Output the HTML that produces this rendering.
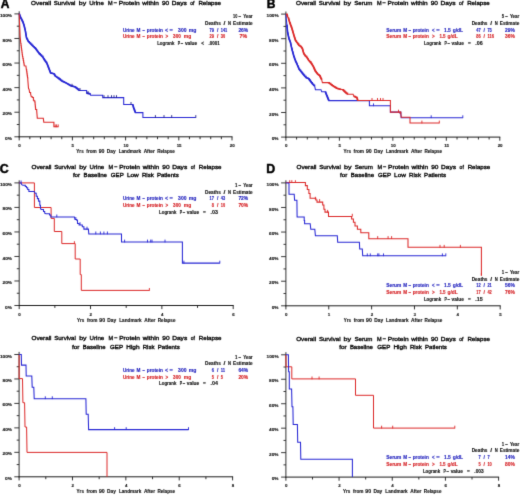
<!DOCTYPE html>
<html><head><meta charset="utf-8"><style>
html,body{margin:0;padding:0;background:#fff;}
body{width:520px;height:495px;overflow:hidden;}
svg{display:block;font-family:"Liberation Sans", sans-serif;}
</style></head><body>
<svg xmlns="http://www.w3.org/2000/svg" width="520" height="495" viewBox="0 0 520 495">
<defs><filter id="bl" x="0" y="0" width="520" height="495" filterUnits="userSpaceOnUse" color-interpolation-filters="sRGB"><feConvolveMatrix order="3" kernelMatrix="0.0113 0.0838 0.0113 0.0838 0.6193 0.0838 0.0113 0.0838 0.0113" edgeMode="duplicate" preserveAlpha="true"/></filter></defs>
<g filter="url(#bl)">
<rect width="520" height="495" fill="#fff"/>
<text x="0.7" y="8.4" font-size="12" font-weight="bold" fill="#000" stroke="#000" stroke-width="0.45">A</text>
<text x="31.10" y="4.83" font-size="6.2" fill="#0a0a0a" stroke="#0a0a0a" stroke-width="0.36" font-weight="normal" textLength="20.00" lengthAdjust="spacingAndGlyphs">Overall</text>
<text x="53.80" y="4.83" font-size="6.2" fill="#0a0a0a" stroke="#0a0a0a" stroke-width="0.36" font-weight="normal" textLength="21.60" lengthAdjust="spacingAndGlyphs">Survival</text>
<text x="78.80" y="4.83" font-size="6.2" fill="#0a0a0a" stroke="#0a0a0a" stroke-width="0.36" font-weight="normal" textLength="7.40" lengthAdjust="spacingAndGlyphs">by</text>
<text x="89.20" y="4.83" font-size="6.2" fill="#0a0a0a" stroke="#0a0a0a" stroke-width="0.36" font-weight="normal" textLength="14.60" lengthAdjust="spacingAndGlyphs">Urine</text>
<text x="108.10" y="4.83" font-size="6.2" fill="#0a0a0a" stroke="#0a0a0a" stroke-width="0.36" font-weight="normal" textLength="4.60" lengthAdjust="spacingAndGlyphs">M</text>
<text x="113.80" y="4.83" font-size="6.2" fill="#0a0a0a" stroke="#0a0a0a" stroke-width="0.36" font-weight="normal" textLength="3.50" lengthAdjust="spacingAndGlyphs">−</text>
<text x="118.80" y="4.83" font-size="6.2" fill="#0a0a0a" stroke="#0a0a0a" stroke-width="0.36" font-weight="normal" textLength="20.80" lengthAdjust="spacingAndGlyphs">Protein</text>
<text x="142.30" y="4.83" font-size="6.2" fill="#0a0a0a" stroke="#0a0a0a" stroke-width="0.36" font-weight="normal" textLength="16.50" lengthAdjust="spacingAndGlyphs">within</text>
<text x="161.90" y="4.83" font-size="6.2" fill="#0a0a0a" stroke="#0a0a0a" stroke-width="0.36" font-weight="normal" textLength="7.30" lengthAdjust="spacingAndGlyphs">90</text>
<text x="171.80" y="4.83" font-size="6.2" fill="#0a0a0a" stroke="#0a0a0a" stroke-width="0.36" font-weight="normal" textLength="15.00" lengthAdjust="spacingAndGlyphs">Days</text>
<text x="190.30" y="4.83" font-size="6.2" fill="#0a0a0a" stroke="#0a0a0a" stroke-width="0.36" font-weight="normal" textLength="4.20" lengthAdjust="spacingAndGlyphs">of</text>
<text x="198.40" y="4.83" font-size="6.2" fill="#0a0a0a" stroke="#0a0a0a" stroke-width="0.36" font-weight="normal" textLength="22.60" lengthAdjust="spacingAndGlyphs">Relapse</text>
<line x1="19.20" y1="11.30" x2="19.20" y2="137.30" stroke="#1a1a1a" stroke-width="0.9"/>
<line x1="14.40" y1="136.80" x2="19.20" y2="136.80" stroke="#222" stroke-width="0.9"/>
<line x1="16.80" y1="124.51" x2="19.20" y2="124.51" stroke="#222" stroke-width="0.9"/>
<line x1="14.40" y1="112.22" x2="19.20" y2="112.22" stroke="#222" stroke-width="0.9"/>
<line x1="16.80" y1="99.93" x2="19.20" y2="99.93" stroke="#222" stroke-width="0.9"/>
<line x1="14.40" y1="87.64" x2="19.20" y2="87.64" stroke="#222" stroke-width="0.9"/>
<line x1="16.80" y1="75.35" x2="19.20" y2="75.35" stroke="#222" stroke-width="0.9"/>
<line x1="14.40" y1="63.06" x2="19.20" y2="63.06" stroke="#222" stroke-width="0.9"/>
<line x1="16.80" y1="50.77" x2="19.20" y2="50.77" stroke="#222" stroke-width="0.9"/>
<line x1="14.40" y1="38.48" x2="19.20" y2="38.48" stroke="#222" stroke-width="0.9"/>
<line x1="16.80" y1="26.19" x2="19.20" y2="26.19" stroke="#222" stroke-width="0.9"/>
<line x1="14.40" y1="13.90" x2="19.20" y2="13.90" stroke="#222" stroke-width="0.9"/>
<text x="5.10" y="139.85" font-size="4.3" fill="#111" stroke="#111" stroke-width="0.12" font-weight="bold" textLength="6.90" lengthAdjust="spacingAndGlyphs">0%</text>
<text x="2.50" y="115.27" font-size="4.3" fill="#111" stroke="#111" stroke-width="0.12" font-weight="bold" textLength="9.50" lengthAdjust="spacingAndGlyphs">20%</text>
<text x="2.50" y="90.69" font-size="4.3" fill="#111" stroke="#111" stroke-width="0.12" font-weight="bold" textLength="9.50" lengthAdjust="spacingAndGlyphs">40%</text>
<text x="2.50" y="66.11" font-size="4.3" fill="#111" stroke="#111" stroke-width="0.12" font-weight="bold" textLength="9.50" lengthAdjust="spacingAndGlyphs">60%</text>
<text x="2.50" y="41.53" font-size="4.3" fill="#111" stroke="#111" stroke-width="0.12" font-weight="bold" textLength="9.50" lengthAdjust="spacingAndGlyphs">80%</text>
<text x="-0.10" y="16.95" font-size="4.3" fill="#111" stroke="#111" stroke-width="0.12" font-weight="bold" textLength="12.10" lengthAdjust="spacingAndGlyphs">100%</text>
<line x1="18.70" y1="136.80" x2="232.50" y2="136.80" stroke="#1a1a1a" stroke-width="1.0"/>
<line x1="19.20" y1="136.80" x2="19.20" y2="140.40" stroke="#1a1a1a" stroke-width="0.9"/>
<line x1="29.84" y1="136.80" x2="29.84" y2="139.20" stroke="#1a1a1a" stroke-width="0.9"/>
<line x1="40.48" y1="136.80" x2="40.48" y2="139.20" stroke="#1a1a1a" stroke-width="0.9"/>
<line x1="51.12" y1="136.80" x2="51.12" y2="139.20" stroke="#1a1a1a" stroke-width="0.9"/>
<line x1="61.76" y1="136.80" x2="61.76" y2="139.20" stroke="#1a1a1a" stroke-width="0.9"/>
<line x1="72.40" y1="136.80" x2="72.40" y2="140.40" stroke="#1a1a1a" stroke-width="0.9"/>
<line x1="83.04" y1="136.80" x2="83.04" y2="139.20" stroke="#1a1a1a" stroke-width="0.9"/>
<line x1="93.68" y1="136.80" x2="93.68" y2="139.20" stroke="#1a1a1a" stroke-width="0.9"/>
<line x1="104.32" y1="136.80" x2="104.32" y2="139.20" stroke="#1a1a1a" stroke-width="0.9"/>
<line x1="114.96" y1="136.80" x2="114.96" y2="139.20" stroke="#1a1a1a" stroke-width="0.9"/>
<line x1="125.60" y1="136.80" x2="125.60" y2="140.40" stroke="#1a1a1a" stroke-width="0.9"/>
<line x1="136.24" y1="136.80" x2="136.24" y2="139.20" stroke="#1a1a1a" stroke-width="0.9"/>
<line x1="146.88" y1="136.80" x2="146.88" y2="139.20" stroke="#1a1a1a" stroke-width="0.9"/>
<line x1="157.52" y1="136.80" x2="157.52" y2="139.20" stroke="#1a1a1a" stroke-width="0.9"/>
<line x1="168.16" y1="136.80" x2="168.16" y2="139.20" stroke="#1a1a1a" stroke-width="0.9"/>
<line x1="178.80" y1="136.80" x2="178.80" y2="140.40" stroke="#1a1a1a" stroke-width="0.9"/>
<line x1="189.44" y1="136.80" x2="189.44" y2="139.20" stroke="#1a1a1a" stroke-width="0.9"/>
<line x1="200.08" y1="136.80" x2="200.08" y2="139.20" stroke="#1a1a1a" stroke-width="0.9"/>
<line x1="210.72" y1="136.80" x2="210.72" y2="139.20" stroke="#1a1a1a" stroke-width="0.9"/>
<line x1="221.36" y1="136.80" x2="221.36" y2="139.20" stroke="#1a1a1a" stroke-width="0.9"/>
<line x1="232.00" y1="136.80" x2="232.00" y2="140.40" stroke="#1a1a1a" stroke-width="0.9"/>
<text x="18.27" y="146.85" font-size="4.3" fill="#111" stroke="#111" stroke-width="0.12" font-weight="bold" textLength="2.45" lengthAdjust="spacingAndGlyphs">0</text>
<text x="71.48" y="146.85" font-size="4.3" fill="#111" stroke="#111" stroke-width="0.12" font-weight="bold" textLength="2.45" lengthAdjust="spacingAndGlyphs">5</text>
<text x="123.45" y="146.85" font-size="4.3" fill="#111" stroke="#111" stroke-width="0.12" font-weight="bold" textLength="4.90" lengthAdjust="spacingAndGlyphs">10</text>
<text x="176.65" y="146.85" font-size="4.3" fill="#111" stroke="#111" stroke-width="0.12" font-weight="bold" textLength="4.90" lengthAdjust="spacingAndGlyphs">15</text>
<text x="229.85" y="146.85" font-size="4.3" fill="#111" stroke="#111" stroke-width="0.12" font-weight="bold" textLength="4.90" lengthAdjust="spacingAndGlyphs">20</text>
<text x="76.35" y="153.13" font-size="4.8" fill="#111" stroke="#111" stroke-width="0.12" font-weight="bold" textLength="7.30" lengthAdjust="spacingAndGlyphs">Yrs</text>
<text x="86.35" y="153.13" font-size="4.8" fill="#111" stroke="#111" stroke-width="0.12" font-weight="bold" textLength="10.40" lengthAdjust="spacingAndGlyphs">from</text>
<text x="98.65" y="153.13" font-size="4.8" fill="#111" stroke="#111" stroke-width="0.12" font-weight="bold" textLength="5.80" lengthAdjust="spacingAndGlyphs">90</text>
<text x="106.75" y="153.13" font-size="4.8" fill="#111" stroke="#111" stroke-width="0.12" font-weight="bold" textLength="8.90" lengthAdjust="spacingAndGlyphs">Day</text>
<text x="118.65" y="153.13" font-size="4.8" fill="#111" stroke="#111" stroke-width="0.12" font-weight="bold" textLength="22.40" lengthAdjust="spacingAndGlyphs">Landmark</text>
<text x="143.65" y="153.13" font-size="4.8" fill="#111" stroke="#111" stroke-width="0.12" font-weight="bold" textLength="11.20" lengthAdjust="spacingAndGlyphs">After</text>
<text x="157.15" y="153.13" font-size="4.8" fill="#111" stroke="#111" stroke-width="0.12" font-weight="bold" textLength="17.70" lengthAdjust="spacingAndGlyphs">Relapse</text>
<text x="233.10" y="18.33" font-size="4.8" fill="#111" stroke="#111" stroke-width="0.12" font-weight="bold" textLength="4.30" lengthAdjust="spacingAndGlyphs">10</text>
<text x="238.50" y="18.33" font-size="4.8" fill="#111" stroke="#111" stroke-width="0.12" font-weight="bold" textLength="2.70" lengthAdjust="spacingAndGlyphs">−</text>
<text x="243.20" y="18.33" font-size="4.8" fill="#111" stroke="#111" stroke-width="0.12" font-weight="bold" textLength="9.40" lengthAdjust="spacingAndGlyphs">Year</text>
<text x="205.00" y="25.05" font-size="4.8" fill="#111" stroke="#111" stroke-width="0.12" font-weight="bold" textLength="15.80" lengthAdjust="spacingAndGlyphs">Deaths</text>
<text x="223.50" y="25.05" font-size="4.8" fill="#111" stroke="#111" stroke-width="0.12" font-weight="bold" textLength="1.90" lengthAdjust="spacingAndGlyphs">/</text>
<text x="228.00" y="25.05" font-size="4.8" fill="#111" stroke="#111" stroke-width="0.12" font-weight="bold" textLength="3.00" lengthAdjust="spacingAndGlyphs">N</text>
<text x="233.10" y="25.05" font-size="4.8" fill="#111" stroke="#111" stroke-width="0.12" font-weight="bold" textLength="19.50" lengthAdjust="spacingAndGlyphs">Estimate</text>
<text x="122.90" y="31.77" font-size="4.8" fill="#1c1cbc" stroke="#1c1cbc" stroke-width="0.12" font-weight="bold" textLength="11.70" lengthAdjust="spacingAndGlyphs">Urine</text>
<text x="136.50" y="31.77" font-size="4.8" fill="#1c1cbc" stroke="#1c1cbc" stroke-width="0.12" font-weight="bold" textLength="3.90" lengthAdjust="spacingAndGlyphs">M</text>
<text x="142.50" y="31.77" font-size="4.8" fill="#1c1cbc" stroke="#1c1cbc" stroke-width="0.12" font-weight="bold" textLength="2.50" lengthAdjust="spacingAndGlyphs">−</text>
<text x="146.80" y="31.77" font-size="4.8" fill="#1c1cbc" stroke="#1c1cbc" stroke-width="0.12" font-weight="bold" textLength="16.10" lengthAdjust="spacingAndGlyphs">protein</text>
<text x="165.00" y="31.77" font-size="4.8" fill="#1c1cbc" stroke="#1c1cbc" stroke-width="0.12" font-weight="bold" textLength="3.10" lengthAdjust="spacingAndGlyphs">&lt;</text>
<text x="169.60" y="31.77" font-size="4.8" fill="#1c1cbc" stroke="#1c1cbc" stroke-width="0.12" font-weight="bold" textLength="3.30" lengthAdjust="spacingAndGlyphs">=</text>
<text x="178.10" y="31.77" font-size="4.8" fill="#1c1cbc" stroke="#1c1cbc" stroke-width="0.12" font-weight="bold" textLength="8.40" lengthAdjust="spacingAndGlyphs">300</text>
<text x="188.80" y="31.77" font-size="4.8" fill="#1c1cbc" stroke="#1c1cbc" stroke-width="0.12" font-weight="bold" textLength="7.70" lengthAdjust="spacingAndGlyphs">mg</text>
<text x="122.90" y="38.49" font-size="4.8" fill="#d41c20" stroke="#d41c20" stroke-width="0.12" font-weight="bold" textLength="11.70" lengthAdjust="spacingAndGlyphs">Urine</text>
<text x="136.50" y="38.49" font-size="4.8" fill="#d41c20" stroke="#d41c20" stroke-width="0.12" font-weight="bold" textLength="3.90" lengthAdjust="spacingAndGlyphs">M</text>
<text x="142.50" y="38.49" font-size="4.8" fill="#d41c20" stroke="#d41c20" stroke-width="0.12" font-weight="bold" textLength="2.50" lengthAdjust="spacingAndGlyphs">−</text>
<text x="146.80" y="38.49" font-size="4.8" fill="#d41c20" stroke="#d41c20" stroke-width="0.12" font-weight="bold" textLength="16.10" lengthAdjust="spacingAndGlyphs">protein</text>
<text x="165.40" y="38.49" font-size="4.8" fill="#d41c20" stroke="#d41c20" stroke-width="0.12" font-weight="bold" textLength="2.70" lengthAdjust="spacingAndGlyphs">&gt;</text>
<text x="173.10" y="38.49" font-size="4.8" fill="#d41c20" stroke="#d41c20" stroke-width="0.12" font-weight="bold" textLength="7.70" lengthAdjust="spacingAndGlyphs">300</text>
<text x="183.80" y="38.49" font-size="4.8" fill="#d41c20" stroke="#d41c20" stroke-width="0.12" font-weight="bold" textLength="7.40" lengthAdjust="spacingAndGlyphs">mg</text>
<text x="209.60" y="31.77" font-size="4.8" fill="#1c1cbc" stroke="#1c1cbc" stroke-width="0.12" font-weight="bold" textLength="4.40" lengthAdjust="spacingAndGlyphs">79</text>
<text x="216.90" y="31.77" font-size="4.8" fill="#1c1cbc" stroke="#1c1cbc" stroke-width="0.12" font-weight="bold" textLength="1.40" lengthAdjust="spacingAndGlyphs">/</text>
<text x="220.70" y="31.77" font-size="4.8" fill="#1c1cbc" stroke="#1c1cbc" stroke-width="0.12" font-weight="bold" textLength="6.60" lengthAdjust="spacingAndGlyphs">141</text>
<text x="238.40" y="31.77" font-size="4.8" fill="#1c1cbc" stroke="#1c1cbc" stroke-width="0.12" font-weight="bold" textLength="9.80" lengthAdjust="spacingAndGlyphs">26%</text>
<text x="209.60" y="38.49" font-size="4.8" fill="#d41c20" stroke="#d41c20" stroke-width="0.12" font-weight="bold" textLength="4.40" lengthAdjust="spacingAndGlyphs">29</text>
<text x="216.90" y="38.49" font-size="4.8" fill="#d41c20" stroke="#d41c20" stroke-width="0.12" font-weight="bold" textLength="1.40" lengthAdjust="spacingAndGlyphs">/</text>
<text x="220.70" y="38.49" font-size="4.8" fill="#d41c20" stroke="#d41c20" stroke-width="0.12" font-weight="bold" textLength="4.40" lengthAdjust="spacingAndGlyphs">30</text>
<text x="239.50" y="38.49" font-size="4.8" fill="#d41c20" stroke="#d41c20" stroke-width="0.12" font-weight="bold" textLength="7.60" lengthAdjust="spacingAndGlyphs">7%</text>
<text x="157.20" y="45.21" font-size="4.8" fill="#111" stroke="#111" stroke-width="0.12" font-weight="bold" textLength="17.30" lengthAdjust="spacingAndGlyphs">Logrank</text>
<text x="177.80" y="45.21" font-size="4.8" fill="#111" stroke="#111" stroke-width="0.12" font-weight="bold" textLength="2.30" lengthAdjust="spacingAndGlyphs">P</text>
<text x="180.80" y="45.21" font-size="4.8" fill="#111" stroke="#111" stroke-width="0.12" font-weight="bold" textLength="2.60" lengthAdjust="spacingAndGlyphs">−</text>
<text x="184.90" y="45.21" font-size="4.8" fill="#111" stroke="#111" stroke-width="0.12" font-weight="bold" textLength="12.40" lengthAdjust="spacingAndGlyphs">value</text>
<text x="201.20" y="45.21" font-size="4.8" fill="#111" stroke="#111" stroke-width="0.12" font-weight="bold" textLength="2.80" lengthAdjust="spacingAndGlyphs">&lt;</text>
<text x="208.60" y="45.21" font-size="4.8" fill="#111" stroke="#111" stroke-width="0.12" font-weight="bold" textLength="11.20" lengthAdjust="spacingAndGlyphs">.0001</text>
<polyline points="19.20,13.90 20.50,17.30 22.90,22.10 24.10,25.80 25.30,30.60 26.50,37.90 28.30,41.50 32.00,45.20 35.60,48.80 39.20,53.60 42.90,57.30 44.30,59.80 46.80,63.20 49.20,69.40 50.50,72.90 53.80,73.70 55.40,76.20 57.80,77.80 61.90,81.00 66.70,83.40 70.70,85.80 75.00,86.90 77.30,88.80 78.90,90.40" fill="none" stroke="#2626d4" stroke-width="1.6" stroke-linejoin="round"/>
<polyline points="86.60,93.10 90.20,93.90" fill="none" stroke="#2626d4" stroke-width="1.6" stroke-linejoin="round"/>
<polyline points="132.60,104.40 133.80,108.50 135.40,112.60" fill="none" stroke="#2626d4" stroke-width="1.6" stroke-linejoin="round"/>
<polyline points="19.20,13.90 19.63,13.90 19.63,15.03 20.07,15.03 20.07,16.17 20.50,16.17 20.50,17.30 21.10,17.30 21.10,18.50 21.70,18.50 21.70,19.70 22.30,19.70 22.30,20.90 22.90,20.90 22.90,22.10 23.30,22.10 23.30,23.33 23.70,23.33 23.70,24.57 24.10,24.57 24.10,25.80 24.40,25.80 24.40,27.00 24.70,27.00 24.70,28.20 25.00,28.20 25.00,29.40 25.30,29.40 25.30,30.60 25.50,30.60 25.50,31.82 25.70,31.82 25.70,33.03 25.90,33.03 25.90,34.25 26.10,34.25 26.10,35.47 26.30,35.47 26.30,36.68 26.50,36.68 26.50,37.90 27.10,37.90 27.10,39.10 27.70,39.10 27.70,40.30 28.30,40.30 28.30,41.50 29.53,41.50 29.53,42.73 30.77,42.73 30.77,43.97 32.00,43.97 32.00,45.20 33.20,45.20 33.20,46.40 34.40,46.40 34.40,47.60 35.60,47.60 35.60,48.80 36.50,48.80 36.50,50.00 37.40,50.00 37.40,51.20 38.30,51.20 38.30,52.40 39.20,52.40 39.20,53.60 40.43,53.60 40.43,54.83 41.67,54.83 41.67,56.07 42.90,56.07 42.90,57.30 43.60,57.30 43.60,58.55 44.30,58.55 44.30,59.80 45.13,59.80 45.13,60.93 45.97,60.93 45.97,62.07 46.80,62.07 46.80,63.20 47.28,63.20 47.28,64.44 47.76,64.44 47.76,65.68 48.24,65.68 48.24,66.92 48.72,66.92 48.72,68.16 49.20,68.16 49.20,69.40 49.63,69.40 49.63,70.57 50.07,70.57 50.07,71.73 50.50,71.73 50.50,72.90 51.60,72.90 51.60,73.17 52.70,73.17 52.70,73.43 53.80,73.43 53.80,73.70 54.60,73.70 54.60,74.95 55.40,74.95 55.40,76.20 56.60,76.20 56.60,77.00 57.80,77.00 57.80,77.80 59.17,77.80 59.17,78.87 60.53,78.87 60.53,79.93 61.90,79.93 61.90,81.00 63.10,81.00 63.10,81.60 64.30,81.60 64.30,82.20 65.50,82.20 65.50,82.80 66.70,82.80 66.70,83.40 68.03,83.40 68.03,84.20 69.37,84.20 69.37,85.00 70.70,85.00 70.70,85.80 72.13,85.80 72.13,86.17 73.57,86.17 73.57,86.53 75.00,86.53 75.00,86.90 76.15,86.90 76.15,87.85 77.30,87.85 77.30,88.80 78.90,88.80 78.90,90.40 86.60,90.60 86.60,93.10 87.80,93.10 87.80,93.37 89.00,93.37 89.00,93.63 90.20,93.63 90.20,93.90 90.60,95.20 102.70,95.20 102.70,97.60 123.70,97.60 123.70,104.40 132.60,104.40 133.00,104.40 133.00,105.77 133.40,105.77 133.40,107.13 133.80,107.13 133.80,108.50 134.33,108.50 134.33,109.87 134.87,109.87 134.87,111.23 135.40,111.23 135.40,112.60 142.90,112.60 142.90,117.50 195.80,117.50" fill="none" stroke="#2626d4" stroke-width="1.05" stroke-linejoin="miter"/>
<line x1="72.00" y1="83.80" x2="72.00" y2="86.60" stroke="#22228a" stroke-width="0.9"/>
<line x1="80.00" y1="88.10" x2="80.00" y2="90.90" stroke="#22228a" stroke-width="0.9"/>
<line x1="88.00" y1="91.00" x2="88.00" y2="93.80" stroke="#22228a" stroke-width="0.9"/>
<line x1="104.00" y1="95.20" x2="104.00" y2="98.00" stroke="#22228a" stroke-width="0.9"/>
<line x1="108.00" y1="95.20" x2="108.00" y2="98.00" stroke="#22228a" stroke-width="0.9"/>
<line x1="111.50" y1="95.20" x2="111.50" y2="98.00" stroke="#22228a" stroke-width="0.9"/>
<line x1="114.00" y1="95.20" x2="114.00" y2="98.00" stroke="#22228a" stroke-width="0.9"/>
<line x1="116.50" y1="95.20" x2="116.50" y2="98.00" stroke="#22228a" stroke-width="0.9"/>
<line x1="131.00" y1="102.00" x2="131.00" y2="104.80" stroke="#22228a" stroke-width="0.9"/>
<line x1="155.40" y1="115.10" x2="155.40" y2="117.90" stroke="#22228a" stroke-width="0.9"/>
<line x1="164.00" y1="115.10" x2="164.00" y2="117.90" stroke="#22228a" stroke-width="0.9"/>
<line x1="171.70" y1="115.10" x2="171.70" y2="117.90" stroke="#22228a" stroke-width="0.9"/>
<line x1="195.80" y1="115.10" x2="195.80" y2="117.90" stroke="#22228a" stroke-width="0.9"/>
<polyline points="19.20,13.80 19.60,24.10 20.10,36.20 20.80,43.50 21.02,43.50 21.02,45.33 21.25,45.33 21.25,47.15 21.48,47.15 21.48,48.97 21.70,48.97 21.70,50.80 21.97,50.80 21.97,52.80 22.23,52.80 22.23,54.80 22.50,54.80 22.50,56.80 22.90,56.80 22.90,58.65 23.30,58.65 23.30,60.50 23.60,60.50 23.60,62.23 23.90,62.23 23.90,63.97 24.20,63.97 24.20,65.70 25.90,65.90 26.40,69.90 26.68,69.90 26.68,71.88 26.96,71.88 26.96,73.86 27.24,73.86 27.24,75.84 27.52,75.84 27.52,77.82 27.80,77.82 27.80,79.80 28.50,88.30 29.20,89.70 29.60,92.50 30.60,92.50 30.60,93.90 31.30,96.80 32.40,96.80 32.40,97.50 33.40,97.50 33.40,100.30 34.10,100.30 34.10,101.00 34.90,101.00 34.90,102.40 35.08,102.40 35.08,104.18 35.25,104.18 35.25,105.95 35.42,105.95 35.42,107.72 35.60,107.72 35.60,109.50 36.70,109.50 36.70,110.90 37.00,114.50 37.30,118.30 43.30,118.30 43.80,122.20 53.90,122.20 53.90,126.80 58.20,126.80" fill="none" stroke="#dc2828" stroke-width="1.1" stroke-linejoin="miter"/>
<line x1="55.20" y1="124.40" x2="55.20" y2="127.20" stroke="#dc2828" stroke-width="0.9"/>
<line x1="56.60" y1="124.40" x2="56.60" y2="127.20" stroke="#dc2828" stroke-width="0.9"/>
<line x1="58.20" y1="124.40" x2="58.20" y2="127.20" stroke="#dc2828" stroke-width="0.9"/>
<text x="266.8" y="8.4" font-size="12" font-weight="bold" fill="#000" stroke="#000" stroke-width="0.45">B</text>
<text x="296.00" y="4.83" font-size="6.2" fill="#0a0a0a" stroke="#0a0a0a" stroke-width="0.36" font-weight="normal" textLength="20.00" lengthAdjust="spacingAndGlyphs">Overall</text>
<text x="318.70" y="4.83" font-size="6.2" fill="#0a0a0a" stroke="#0a0a0a" stroke-width="0.36" font-weight="normal" textLength="21.60" lengthAdjust="spacingAndGlyphs">Survival</text>
<text x="343.40" y="4.83" font-size="6.2" fill="#0a0a0a" stroke="#0a0a0a" stroke-width="0.36" font-weight="normal" textLength="7.60" lengthAdjust="spacingAndGlyphs">by</text>
<text x="354.20" y="4.83" font-size="6.2" fill="#0a0a0a" stroke="#0a0a0a" stroke-width="0.36" font-weight="normal" textLength="18.10" lengthAdjust="spacingAndGlyphs">Serum</text>
<text x="376.90" y="4.83" font-size="6.2" fill="#0a0a0a" stroke="#0a0a0a" stroke-width="0.36" font-weight="normal" textLength="4.60" lengthAdjust="spacingAndGlyphs">M</text>
<text x="382.60" y="4.83" font-size="6.2" fill="#0a0a0a" stroke="#0a0a0a" stroke-width="0.36" font-weight="normal" textLength="3.50" lengthAdjust="spacingAndGlyphs">−</text>
<text x="387.60" y="4.83" font-size="6.2" fill="#0a0a0a" stroke="#0a0a0a" stroke-width="0.36" font-weight="normal" textLength="20.80" lengthAdjust="spacingAndGlyphs">Protein</text>
<text x="411.10" y="4.83" font-size="6.2" fill="#0a0a0a" stroke="#0a0a0a" stroke-width="0.36" font-weight="normal" textLength="16.50" lengthAdjust="spacingAndGlyphs">within</text>
<text x="430.70" y="4.83" font-size="6.2" fill="#0a0a0a" stroke="#0a0a0a" stroke-width="0.36" font-weight="normal" textLength="7.30" lengthAdjust="spacingAndGlyphs">90</text>
<text x="440.60" y="4.83" font-size="6.2" fill="#0a0a0a" stroke="#0a0a0a" stroke-width="0.36" font-weight="normal" textLength="15.00" lengthAdjust="spacingAndGlyphs">Days</text>
<text x="459.10" y="4.83" font-size="6.2" fill="#0a0a0a" stroke="#0a0a0a" stroke-width="0.36" font-weight="normal" textLength="4.20" lengthAdjust="spacingAndGlyphs">of</text>
<text x="467.20" y="4.83" font-size="6.2" fill="#0a0a0a" stroke="#0a0a0a" stroke-width="0.36" font-weight="normal" textLength="22.50" lengthAdjust="spacingAndGlyphs">Relapse</text>
<line x1="285.90" y1="11.50" x2="285.90" y2="137.60" stroke="#1a1a1a" stroke-width="0.9"/>
<line x1="281.10" y1="137.10" x2="285.90" y2="137.10" stroke="#222" stroke-width="0.9"/>
<line x1="283.50" y1="124.80" x2="285.90" y2="124.80" stroke="#222" stroke-width="0.9"/>
<line x1="281.10" y1="112.50" x2="285.90" y2="112.50" stroke="#222" stroke-width="0.9"/>
<line x1="283.50" y1="100.20" x2="285.90" y2="100.20" stroke="#222" stroke-width="0.9"/>
<line x1="281.10" y1="87.90" x2="285.90" y2="87.90" stroke="#222" stroke-width="0.9"/>
<line x1="283.50" y1="75.60" x2="285.90" y2="75.60" stroke="#222" stroke-width="0.9"/>
<line x1="281.10" y1="63.30" x2="285.90" y2="63.30" stroke="#222" stroke-width="0.9"/>
<line x1="283.50" y1="51.00" x2="285.90" y2="51.00" stroke="#222" stroke-width="0.9"/>
<line x1="281.10" y1="38.70" x2="285.90" y2="38.70" stroke="#222" stroke-width="0.9"/>
<line x1="283.50" y1="26.40" x2="285.90" y2="26.40" stroke="#222" stroke-width="0.9"/>
<line x1="281.10" y1="14.10" x2="285.90" y2="14.10" stroke="#222" stroke-width="0.9"/>
<text x="271.70" y="140.15" font-size="4.3" fill="#111" stroke="#111" stroke-width="0.12" font-weight="bold" textLength="6.90" lengthAdjust="spacingAndGlyphs">0%</text>
<text x="269.10" y="115.55" font-size="4.3" fill="#111" stroke="#111" stroke-width="0.12" font-weight="bold" textLength="9.50" lengthAdjust="spacingAndGlyphs">20%</text>
<text x="269.10" y="90.95" font-size="4.3" fill="#111" stroke="#111" stroke-width="0.12" font-weight="bold" textLength="9.50" lengthAdjust="spacingAndGlyphs">40%</text>
<text x="269.10" y="66.35" font-size="4.3" fill="#111" stroke="#111" stroke-width="0.12" font-weight="bold" textLength="9.50" lengthAdjust="spacingAndGlyphs">60%</text>
<text x="269.10" y="41.75" font-size="4.3" fill="#111" stroke="#111" stroke-width="0.12" font-weight="bold" textLength="9.50" lengthAdjust="spacingAndGlyphs">80%</text>
<text x="266.50" y="17.15" font-size="4.3" fill="#111" stroke="#111" stroke-width="0.12" font-weight="bold" textLength="12.10" lengthAdjust="spacingAndGlyphs">100%</text>
<line x1="285.40" y1="137.10" x2="500.30" y2="137.10" stroke="#1a1a1a" stroke-width="1.0"/>
<line x1="285.90" y1="137.10" x2="285.90" y2="140.70" stroke="#1a1a1a" stroke-width="0.9"/>
<line x1="296.59" y1="137.10" x2="296.59" y2="139.50" stroke="#1a1a1a" stroke-width="0.9"/>
<line x1="307.29" y1="137.10" x2="307.29" y2="139.50" stroke="#1a1a1a" stroke-width="0.9"/>
<line x1="317.98" y1="137.10" x2="317.98" y2="139.50" stroke="#1a1a1a" stroke-width="0.9"/>
<line x1="328.68" y1="137.10" x2="328.68" y2="139.50" stroke="#1a1a1a" stroke-width="0.9"/>
<line x1="339.38" y1="137.10" x2="339.38" y2="140.70" stroke="#1a1a1a" stroke-width="0.9"/>
<line x1="350.07" y1="137.10" x2="350.07" y2="139.50" stroke="#1a1a1a" stroke-width="0.9"/>
<line x1="360.76" y1="137.10" x2="360.76" y2="139.50" stroke="#1a1a1a" stroke-width="0.9"/>
<line x1="371.46" y1="137.10" x2="371.46" y2="139.50" stroke="#1a1a1a" stroke-width="0.9"/>
<line x1="382.15" y1="137.10" x2="382.15" y2="139.50" stroke="#1a1a1a" stroke-width="0.9"/>
<line x1="392.85" y1="137.10" x2="392.85" y2="140.70" stroke="#1a1a1a" stroke-width="0.9"/>
<line x1="403.55" y1="137.10" x2="403.55" y2="139.50" stroke="#1a1a1a" stroke-width="0.9"/>
<line x1="414.24" y1="137.10" x2="414.24" y2="139.50" stroke="#1a1a1a" stroke-width="0.9"/>
<line x1="424.94" y1="137.10" x2="424.94" y2="139.50" stroke="#1a1a1a" stroke-width="0.9"/>
<line x1="435.63" y1="137.10" x2="435.63" y2="139.50" stroke="#1a1a1a" stroke-width="0.9"/>
<line x1="446.32" y1="137.10" x2="446.32" y2="140.70" stroke="#1a1a1a" stroke-width="0.9"/>
<line x1="457.02" y1="137.10" x2="457.02" y2="139.50" stroke="#1a1a1a" stroke-width="0.9"/>
<line x1="467.72" y1="137.10" x2="467.72" y2="139.50" stroke="#1a1a1a" stroke-width="0.9"/>
<line x1="478.41" y1="137.10" x2="478.41" y2="139.50" stroke="#1a1a1a" stroke-width="0.9"/>
<line x1="489.11" y1="137.10" x2="489.11" y2="139.50" stroke="#1a1a1a" stroke-width="0.9"/>
<line x1="499.80" y1="137.10" x2="499.80" y2="140.70" stroke="#1a1a1a" stroke-width="0.9"/>
<text x="284.97" y="147.15" font-size="4.3" fill="#111" stroke="#111" stroke-width="0.12" font-weight="bold" textLength="2.45" lengthAdjust="spacingAndGlyphs">0</text>
<text x="338.45" y="147.15" font-size="4.3" fill="#111" stroke="#111" stroke-width="0.12" font-weight="bold" textLength="2.45" lengthAdjust="spacingAndGlyphs">5</text>
<text x="390.70" y="147.15" font-size="4.3" fill="#111" stroke="#111" stroke-width="0.12" font-weight="bold" textLength="4.90" lengthAdjust="spacingAndGlyphs">10</text>
<text x="444.18" y="147.15" font-size="4.3" fill="#111" stroke="#111" stroke-width="0.12" font-weight="bold" textLength="4.90" lengthAdjust="spacingAndGlyphs">15</text>
<text x="497.65" y="147.15" font-size="4.3" fill="#111" stroke="#111" stroke-width="0.12" font-weight="bold" textLength="4.90" lengthAdjust="spacingAndGlyphs">20</text>
<text x="343.60" y="153.43" font-size="4.8" fill="#111" stroke="#111" stroke-width="0.12" font-weight="bold" textLength="7.30" lengthAdjust="spacingAndGlyphs">Yrs</text>
<text x="353.60" y="153.43" font-size="4.8" fill="#111" stroke="#111" stroke-width="0.12" font-weight="bold" textLength="10.40" lengthAdjust="spacingAndGlyphs">from</text>
<text x="365.90" y="153.43" font-size="4.8" fill="#111" stroke="#111" stroke-width="0.12" font-weight="bold" textLength="5.80" lengthAdjust="spacingAndGlyphs">90</text>
<text x="374.00" y="153.43" font-size="4.8" fill="#111" stroke="#111" stroke-width="0.12" font-weight="bold" textLength="8.90" lengthAdjust="spacingAndGlyphs">Day</text>
<text x="385.90" y="153.43" font-size="4.8" fill="#111" stroke="#111" stroke-width="0.12" font-weight="bold" textLength="22.40" lengthAdjust="spacingAndGlyphs">Landmark</text>
<text x="410.90" y="153.43" font-size="4.8" fill="#111" stroke="#111" stroke-width="0.12" font-weight="bold" textLength="11.20" lengthAdjust="spacingAndGlyphs">After</text>
<text x="424.40" y="153.43" font-size="4.8" fill="#111" stroke="#111" stroke-width="0.12" font-weight="bold" textLength="17.70" lengthAdjust="spacingAndGlyphs">Relapse</text>
<text x="501.70" y="18.13" font-size="4.8" fill="#111" stroke="#111" stroke-width="0.12" font-weight="bold" textLength="2.40" lengthAdjust="spacingAndGlyphs">5</text>
<text x="505.20" y="18.13" font-size="4.8" fill="#111" stroke="#111" stroke-width="0.12" font-weight="bold" textLength="2.70" lengthAdjust="spacingAndGlyphs">−</text>
<text x="509.90" y="18.13" font-size="4.8" fill="#111" stroke="#111" stroke-width="0.12" font-weight="bold" textLength="9.40" lengthAdjust="spacingAndGlyphs">Year</text>
<text x="471.70" y="24.85" font-size="4.8" fill="#111" stroke="#111" stroke-width="0.12" font-weight="bold" textLength="15.80" lengthAdjust="spacingAndGlyphs">Deaths</text>
<text x="490.20" y="24.85" font-size="4.8" fill="#111" stroke="#111" stroke-width="0.12" font-weight="bold" textLength="1.90" lengthAdjust="spacingAndGlyphs">/</text>
<text x="494.70" y="24.85" font-size="4.8" fill="#111" stroke="#111" stroke-width="0.12" font-weight="bold" textLength="3.00" lengthAdjust="spacingAndGlyphs">N</text>
<text x="499.80" y="24.85" font-size="4.8" fill="#111" stroke="#111" stroke-width="0.12" font-weight="bold" textLength="19.50" lengthAdjust="spacingAndGlyphs">Estimate</text>
<text x="386.30" y="31.57" font-size="4.8" fill="#1c1cbc" stroke="#1c1cbc" stroke-width="0.12" font-weight="bold" textLength="15.00" lengthAdjust="spacingAndGlyphs">Serum</text>
<text x="403.20" y="31.57" font-size="4.8" fill="#1c1cbc" stroke="#1c1cbc" stroke-width="0.12" font-weight="bold" textLength="3.90" lengthAdjust="spacingAndGlyphs">M</text>
<text x="408.60" y="31.57" font-size="4.8" fill="#1c1cbc" stroke="#1c1cbc" stroke-width="0.12" font-weight="bold" textLength="2.70" lengthAdjust="spacingAndGlyphs">−</text>
<text x="412.70" y="31.57" font-size="4.8" fill="#1c1cbc" stroke="#1c1cbc" stroke-width="0.12" font-weight="bold" textLength="16.10" lengthAdjust="spacingAndGlyphs">protein</text>
<text x="431.90" y="31.57" font-size="4.8" fill="#1c1cbc" stroke="#1c1cbc" stroke-width="0.12" font-weight="bold" textLength="2.60" lengthAdjust="spacingAndGlyphs">&lt;</text>
<text x="436.20" y="31.57" font-size="4.8" fill="#1c1cbc" stroke="#1c1cbc" stroke-width="0.12" font-weight="bold" textLength="3.40" lengthAdjust="spacingAndGlyphs">=</text>
<text x="444.00" y="31.57" font-size="4.8" fill="#1c1cbc" stroke="#1c1cbc" stroke-width="0.12" font-weight="bold" textLength="6.80" lengthAdjust="spacingAndGlyphs">1.5</text>
<text x="452.70" y="31.57" font-size="4.8" fill="#1c1cbc" stroke="#1c1cbc" stroke-width="0.12" font-weight="bold" textLength="10.40" lengthAdjust="spacingAndGlyphs">g/dL</text>
<text x="386.30" y="38.29" font-size="4.8" fill="#d41c20" stroke="#d41c20" stroke-width="0.12" font-weight="bold" textLength="15.00" lengthAdjust="spacingAndGlyphs">Serum</text>
<text x="403.20" y="38.29" font-size="4.8" fill="#d41c20" stroke="#d41c20" stroke-width="0.12" font-weight="bold" textLength="3.90" lengthAdjust="spacingAndGlyphs">M</text>
<text x="408.60" y="38.29" font-size="4.8" fill="#d41c20" stroke="#d41c20" stroke-width="0.12" font-weight="bold" textLength="2.70" lengthAdjust="spacingAndGlyphs">−</text>
<text x="412.70" y="38.29" font-size="4.8" fill="#d41c20" stroke="#d41c20" stroke-width="0.12" font-weight="bold" textLength="16.10" lengthAdjust="spacingAndGlyphs">protein</text>
<text x="431.90" y="38.29" font-size="4.8" fill="#d41c20" stroke="#d41c20" stroke-width="0.12" font-weight="bold" textLength="2.70" lengthAdjust="spacingAndGlyphs">&gt;</text>
<text x="439.40" y="38.29" font-size="4.8" fill="#d41c20" stroke="#d41c20" stroke-width="0.12" font-weight="bold" textLength="6.20" lengthAdjust="spacingAndGlyphs">1.5</text>
<text x="447.50" y="38.29" font-size="4.8" fill="#d41c20" stroke="#d41c20" stroke-width="0.12" font-weight="bold" textLength="10.20" lengthAdjust="spacingAndGlyphs">g/dL</text>
<text x="476.30" y="31.57" font-size="4.8" fill="#1c1cbc" stroke="#1c1cbc" stroke-width="0.12" font-weight="bold" textLength="4.40" lengthAdjust="spacingAndGlyphs">47</text>
<text x="483.60" y="31.57" font-size="4.8" fill="#1c1cbc" stroke="#1c1cbc" stroke-width="0.12" font-weight="bold" textLength="1.40" lengthAdjust="spacingAndGlyphs">/</text>
<text x="487.40" y="31.57" font-size="4.8" fill="#1c1cbc" stroke="#1c1cbc" stroke-width="0.12" font-weight="bold" textLength="4.40" lengthAdjust="spacingAndGlyphs">73</text>
<text x="505.10" y="31.57" font-size="4.8" fill="#1c1cbc" stroke="#1c1cbc" stroke-width="0.12" font-weight="bold" textLength="9.80" lengthAdjust="spacingAndGlyphs">29%</text>
<text x="476.30" y="38.29" font-size="4.8" fill="#d41c20" stroke="#d41c20" stroke-width="0.12" font-weight="bold" textLength="4.40" lengthAdjust="spacingAndGlyphs">86</text>
<text x="483.60" y="38.29" font-size="4.8" fill="#d41c20" stroke="#d41c20" stroke-width="0.12" font-weight="bold" textLength="1.40" lengthAdjust="spacingAndGlyphs">/</text>
<text x="487.40" y="38.29" font-size="4.8" fill="#d41c20" stroke="#d41c20" stroke-width="0.12" font-weight="bold" textLength="6.60" lengthAdjust="spacingAndGlyphs">116</text>
<text x="505.10" y="38.29" font-size="4.8" fill="#d41c20" stroke="#d41c20" stroke-width="0.12" font-weight="bold" textLength="9.80" lengthAdjust="spacingAndGlyphs">36%</text>
<text x="423.90" y="45.01" font-size="4.8" fill="#111" stroke="#111" stroke-width="0.12" font-weight="bold" textLength="17.30" lengthAdjust="spacingAndGlyphs">Logrank</text>
<text x="444.50" y="45.01" font-size="4.8" fill="#111" stroke="#111" stroke-width="0.12" font-weight="bold" textLength="2.30" lengthAdjust="spacingAndGlyphs">P</text>
<text x="447.50" y="45.01" font-size="4.8" fill="#111" stroke="#111" stroke-width="0.12" font-weight="bold" textLength="2.60" lengthAdjust="spacingAndGlyphs">−</text>
<text x="451.60" y="45.01" font-size="4.8" fill="#111" stroke="#111" stroke-width="0.12" font-weight="bold" textLength="12.40" lengthAdjust="spacingAndGlyphs">value</text>
<text x="467.90" y="45.01" font-size="4.8" fill="#111" stroke="#111" stroke-width="0.12" font-weight="bold" textLength="2.80" lengthAdjust="spacingAndGlyphs">=</text>
<text x="475.30" y="45.01" font-size="4.8" fill="#111" stroke="#111" stroke-width="0.12" font-weight="bold" textLength="7.40" lengthAdjust="spacingAndGlyphs">.06</text>
<polyline points="286.90,24.80 287.60,32.50 289.00,38.90 290.40,42.40 291.80,48.80 293.90,56.60 295.40,60.80 297.00,64.20 299.10,69.20 301.90,72.70 304.80,76.30 306.20,77.70 308.30,78.40 310.40,81.20 312.50,84.00 314.70,86.20" fill="none" stroke="#2626d4" stroke-width="1.6" stroke-linejoin="round"/>
<polyline points="325.30,91.80 326.70,95.40 328.80,100.60" fill="none" stroke="#2626d4" stroke-width="1.6" stroke-linejoin="round"/>
<polyline points="399.60,112.10 400.80,113.80" fill="none" stroke="#2626d4" stroke-width="1.6" stroke-linejoin="round"/>
<polyline points="285.90,14.10 286.20,18.40 286.90,24.80 287.02,24.80 287.02,26.08 287.13,26.08 287.13,27.37 287.25,27.37 287.25,28.65 287.37,28.65 287.37,29.93 287.48,29.93 287.48,31.22 287.60,31.22 287.60,32.50 287.88,32.50 287.88,33.78 288.16,33.78 288.16,35.06 288.44,35.06 288.44,36.34 288.72,36.34 288.72,37.62 289.00,37.62 289.00,38.90 289.47,38.90 289.47,40.07 289.93,40.07 289.93,41.23 290.40,41.23 290.40,42.40 290.68,42.40 290.68,43.68 290.96,43.68 290.96,44.96 291.24,44.96 291.24,46.24 291.52,46.24 291.52,47.52 291.80,47.52 291.80,48.80 292.15,48.80 292.15,50.10 292.50,50.10 292.50,51.40 292.85,51.40 292.85,52.70 293.20,52.70 293.20,54.00 293.55,54.00 293.55,55.30 293.90,55.30 293.90,56.60 294.40,56.60 294.40,58.00 294.90,58.00 294.90,59.40 295.40,59.40 295.40,60.80 295.93,60.80 295.93,61.93 296.47,61.93 296.47,63.07 297.00,63.07 297.00,64.20 297.52,64.20 297.52,65.45 298.05,65.45 298.05,66.70 298.58,66.70 298.58,67.95 299.10,67.95 299.10,69.20 300.03,69.20 300.03,70.37 300.97,70.37 300.97,71.53 301.90,71.53 301.90,72.70 302.87,72.70 302.87,73.90 303.83,73.90 303.83,75.10 304.80,75.10 304.80,76.30 306.20,76.30 306.20,77.70 307.25,77.70 307.25,78.05 308.30,78.05 308.30,78.40 309.35,78.40 309.35,79.80 310.40,79.80 310.40,81.20 311.45,81.20 311.45,82.60 312.50,82.60 312.50,84.00 313.60,84.00 313.60,85.10 314.70,85.10 314.70,86.20 315.40,89.70 321.00,89.70 321.70,91.80 325.30,91.80 325.77,91.80 325.77,93.00 326.23,93.00 326.23,94.20 326.70,94.20 326.70,95.40 327.23,95.40 327.23,96.70 327.75,96.70 327.75,98.00 328.27,98.00 328.27,99.30 328.80,99.30 328.80,100.60 369.40,100.60 369.40,105.80 390.40,105.80 390.40,112.10 399.60,112.10 400.80,112.10 400.80,113.80 401.20,117.70 462.80,117.70" fill="none" stroke="#2626d4" stroke-width="1.05" stroke-linejoin="miter"/>
<polyline points="286.90,14.10 287.60,17.00" fill="none" stroke="#dc2828" stroke-width="1.6" stroke-linejoin="round"/>
<polyline points="288.30,17.70 289.70,22.60 291.80,28.30 293.90,35.40 295.40,40.30 296.80,42.40 298.90,45.30 301.00,46.70 302.40,48.80 303.80,53.70 305.30,55.90 306.70,57.30 308.50,60.20 311.00,63.00 313.20,66.40 315.40,71.30 317.50,74.10 319.60,75.60 321.70,79.80" fill="none" stroke="#dc2828" stroke-width="1.6" stroke-linejoin="round"/>
<polyline points="328.10,82.60 329.50,83.30 332.30,85.50 336.60,88.30 340.80,89.50" fill="none" stroke="#dc2828" stroke-width="1.6" stroke-linejoin="round"/>
<polyline points="342.30,89.50 343.80,90.80 346.20,93.10 347.70,94.30" fill="none" stroke="#dc2828" stroke-width="1.6" stroke-linejoin="round"/>
<polyline points="353.80,96.20 356.90,97.70 357.70,100.40" fill="none" stroke="#dc2828" stroke-width="1.6" stroke-linejoin="round"/>
<polyline points="399.60,112.10 400.80,113.10" fill="none" stroke="#dc2828" stroke-width="1.6" stroke-linejoin="round"/>
<polyline points="285.90,14.10 286.90,14.10 287.25,14.10 287.25,15.55 287.60,15.55 287.60,17.00 288.30,17.70 288.65,17.70 288.65,18.93 289.00,18.93 289.00,20.15 289.35,20.15 289.35,21.38 289.70,21.38 289.70,22.60 290.23,22.60 290.23,24.03 290.75,24.03 290.75,25.45 291.27,25.45 291.27,26.88 291.80,26.88 291.80,28.30 292.22,28.30 292.22,29.72 292.64,29.72 292.64,31.14 293.06,31.14 293.06,32.56 293.48,32.56 293.48,33.98 293.90,33.98 293.90,35.40 294.27,35.40 294.27,36.62 294.65,36.62 294.65,37.85 295.02,37.85 295.02,39.07 295.40,39.07 295.40,40.30 296.10,40.30 296.10,41.35 296.80,41.35 296.80,42.40 297.85,42.40 297.85,43.85 298.90,43.85 298.90,45.30 299.95,45.30 299.95,46.00 301.00,46.00 301.00,46.70 301.70,46.70 301.70,47.75 302.40,47.75 302.40,48.80 302.75,48.80 302.75,50.02 303.10,50.02 303.10,51.25 303.45,51.25 303.45,52.48 303.80,52.48 303.80,53.70 304.55,53.70 304.55,54.80 305.30,54.80 305.30,55.90 306.70,55.90 306.70,57.30 307.60,57.30 307.60,58.75 308.50,58.75 308.50,60.20 309.75,60.20 309.75,61.60 311.00,61.60 311.00,63.00 311.73,63.00 311.73,64.13 312.47,64.13 312.47,65.27 313.20,65.27 313.20,66.40 313.75,66.40 313.75,67.62 314.30,67.62 314.30,68.85 314.85,68.85 314.85,70.08 315.40,70.08 315.40,71.30 316.45,71.30 316.45,72.70 317.50,72.70 317.50,74.10 318.55,74.10 318.55,74.85 319.60,74.85 319.60,75.60 320.30,75.60 320.30,77.00 321.00,77.00 321.00,78.40 321.70,78.40 321.70,79.80 322.40,82.60 328.10,82.60 329.50,82.60 329.50,83.30 330.90,83.30 330.90,84.40 332.30,84.40 332.30,85.50 333.73,85.50 333.73,86.43 335.17,86.43 335.17,87.37 336.60,87.37 336.60,88.30 338.00,88.30 338.00,88.70 339.40,88.70 339.40,89.10 340.80,89.10 340.80,89.50 342.30,89.50 343.80,89.50 343.80,90.80 345.00,90.80 345.00,91.95 346.20,91.95 346.20,93.10 347.70,93.10 347.70,94.30 353.10,94.30 353.80,96.20 355.35,96.20 355.35,96.95 356.90,96.95 356.90,97.70 357.30,97.70 357.30,99.05 357.70,99.05 357.70,100.40 390.40,100.40 390.40,112.10 399.60,112.10 400.80,112.10 400.80,113.10 401.20,117.20 410.00,117.20 410.00,123.00 439.30,123.00" fill="none" stroke="#dc2828" stroke-width="1.05" stroke-linejoin="miter"/>
<line x1="372.00" y1="98.00" x2="372.00" y2="100.80" stroke="#dc2828" stroke-width="0.9"/>
<line x1="377.50" y1="98.00" x2="377.50" y2="100.80" stroke="#dc2828" stroke-width="0.9"/>
<line x1="380.50" y1="98.00" x2="380.50" y2="100.80" stroke="#dc2828" stroke-width="0.9"/>
<line x1="383.00" y1="98.00" x2="383.00" y2="100.80" stroke="#dc2828" stroke-width="0.9"/>
<line x1="398.50" y1="109.70" x2="398.50" y2="112.50" stroke="#dc2828" stroke-width="0.9"/>
<line x1="421.90" y1="120.60" x2="421.90" y2="123.40" stroke="#dc2828" stroke-width="0.9"/>
<line x1="439.30" y1="120.60" x2="439.30" y2="123.40" stroke="#dc2828" stroke-width="0.9"/>
<line x1="373.50" y1="103.40" x2="373.50" y2="106.20" stroke="#2626d4" stroke-width="0.9"/>
<line x1="431.20" y1="115.30" x2="431.20" y2="118.10" stroke="#2626d4" stroke-width="0.9"/>
<line x1="462.80" y1="115.30" x2="462.80" y2="118.10" stroke="#2626d4" stroke-width="0.9"/>
<text x="-0.3" y="172.7" font-size="12.4" font-weight="bold" fill="#000" stroke="#000" stroke-width="0.45">C</text>
<text x="31.50" y="169.13" font-size="6.2" fill="#0a0a0a" stroke="#0a0a0a" stroke-width="0.36" font-weight="normal" textLength="20.00" lengthAdjust="spacingAndGlyphs">Overall</text>
<text x="54.20" y="169.13" font-size="6.2" fill="#0a0a0a" stroke="#0a0a0a" stroke-width="0.36" font-weight="normal" textLength="21.60" lengthAdjust="spacingAndGlyphs">Survival</text>
<text x="79.20" y="169.13" font-size="6.2" fill="#0a0a0a" stroke="#0a0a0a" stroke-width="0.36" font-weight="normal" textLength="7.40" lengthAdjust="spacingAndGlyphs">by</text>
<text x="89.60" y="169.13" font-size="6.2" fill="#0a0a0a" stroke="#0a0a0a" stroke-width="0.36" font-weight="normal" textLength="14.60" lengthAdjust="spacingAndGlyphs">Urine</text>
<text x="108.50" y="169.13" font-size="6.2" fill="#0a0a0a" stroke="#0a0a0a" stroke-width="0.36" font-weight="normal" textLength="4.60" lengthAdjust="spacingAndGlyphs">M</text>
<text x="114.20" y="169.13" font-size="6.2" fill="#0a0a0a" stroke="#0a0a0a" stroke-width="0.36" font-weight="normal" textLength="3.50" lengthAdjust="spacingAndGlyphs">−</text>
<text x="119.20" y="169.13" font-size="6.2" fill="#0a0a0a" stroke="#0a0a0a" stroke-width="0.36" font-weight="normal" textLength="20.80" lengthAdjust="spacingAndGlyphs">Protein</text>
<text x="142.70" y="169.13" font-size="6.2" fill="#0a0a0a" stroke="#0a0a0a" stroke-width="0.36" font-weight="normal" textLength="16.50" lengthAdjust="spacingAndGlyphs">within</text>
<text x="162.30" y="169.13" font-size="6.2" fill="#0a0a0a" stroke="#0a0a0a" stroke-width="0.36" font-weight="normal" textLength="7.30" lengthAdjust="spacingAndGlyphs">90</text>
<text x="172.20" y="169.13" font-size="6.2" fill="#0a0a0a" stroke="#0a0a0a" stroke-width="0.36" font-weight="normal" textLength="15.00" lengthAdjust="spacingAndGlyphs">Days</text>
<text x="190.70" y="169.13" font-size="6.2" fill="#0a0a0a" stroke="#0a0a0a" stroke-width="0.36" font-weight="normal" textLength="4.20" lengthAdjust="spacingAndGlyphs">of</text>
<text x="198.80" y="169.13" font-size="6.2" fill="#0a0a0a" stroke="#0a0a0a" stroke-width="0.36" font-weight="normal" textLength="22.60" lengthAdjust="spacingAndGlyphs">Relapse</text>
<text x="72.90" y="177.03" font-size="6.2" fill="#0a0a0a" stroke="#0a0a0a" stroke-width="0.36" font-weight="normal" textLength="7.20" lengthAdjust="spacingAndGlyphs">for</text>
<text x="83.60" y="177.03" font-size="6.2" fill="#0a0a0a" stroke="#0a0a0a" stroke-width="0.36" font-weight="normal" textLength="23.30" lengthAdjust="spacingAndGlyphs">Baseline</text>
<text x="110.80" y="177.03" font-size="6.2" fill="#0a0a0a" stroke="#0a0a0a" stroke-width="0.36" font-weight="normal" textLength="13.00" lengthAdjust="spacingAndGlyphs">GEP</text>
<text x="126.90" y="177.03" font-size="6.2" fill="#0a0a0a" stroke="#0a0a0a" stroke-width="0.36" font-weight="normal" textLength="11.90" lengthAdjust="spacingAndGlyphs">Low</text>
<text x="141.90" y="177.03" font-size="6.2" fill="#0a0a0a" stroke="#0a0a0a" stroke-width="0.36" font-weight="normal" textLength="11.90" lengthAdjust="spacingAndGlyphs">Risk</text>
<text x="156.90" y="177.03" font-size="6.2" fill="#0a0a0a" stroke="#0a0a0a" stroke-width="0.36" font-weight="normal" textLength="21.90" lengthAdjust="spacingAndGlyphs">Patients</text>
<line x1="19.20" y1="180.30" x2="19.20" y2="306.00" stroke="#1a1a1a" stroke-width="0.9"/>
<line x1="14.40" y1="305.50" x2="19.20" y2="305.50" stroke="#222" stroke-width="0.9"/>
<line x1="16.80" y1="293.24" x2="19.20" y2="293.24" stroke="#222" stroke-width="0.9"/>
<line x1="14.40" y1="280.98" x2="19.20" y2="280.98" stroke="#222" stroke-width="0.9"/>
<line x1="16.80" y1="268.72" x2="19.20" y2="268.72" stroke="#222" stroke-width="0.9"/>
<line x1="14.40" y1="256.46" x2="19.20" y2="256.46" stroke="#222" stroke-width="0.9"/>
<line x1="16.80" y1="244.20" x2="19.20" y2="244.20" stroke="#222" stroke-width="0.9"/>
<line x1="14.40" y1="231.94" x2="19.20" y2="231.94" stroke="#222" stroke-width="0.9"/>
<line x1="16.80" y1="219.68" x2="19.20" y2="219.68" stroke="#222" stroke-width="0.9"/>
<line x1="14.40" y1="207.42" x2="19.20" y2="207.42" stroke="#222" stroke-width="0.9"/>
<line x1="16.80" y1="195.16" x2="19.20" y2="195.16" stroke="#222" stroke-width="0.9"/>
<line x1="14.40" y1="182.90" x2="19.20" y2="182.90" stroke="#222" stroke-width="0.9"/>
<text x="5.10" y="308.55" font-size="4.3" fill="#111" stroke="#111" stroke-width="0.12" font-weight="bold" textLength="6.90" lengthAdjust="spacingAndGlyphs">0%</text>
<text x="2.50" y="284.03" font-size="4.3" fill="#111" stroke="#111" stroke-width="0.12" font-weight="bold" textLength="9.50" lengthAdjust="spacingAndGlyphs">20%</text>
<text x="2.50" y="259.51" font-size="4.3" fill="#111" stroke="#111" stroke-width="0.12" font-weight="bold" textLength="9.50" lengthAdjust="spacingAndGlyphs">40%</text>
<text x="2.50" y="234.99" font-size="4.3" fill="#111" stroke="#111" stroke-width="0.12" font-weight="bold" textLength="9.50" lengthAdjust="spacingAndGlyphs">60%</text>
<text x="2.50" y="210.47" font-size="4.3" fill="#111" stroke="#111" stroke-width="0.12" font-weight="bold" textLength="9.50" lengthAdjust="spacingAndGlyphs">80%</text>
<text x="-0.10" y="185.95" font-size="4.3" fill="#111" stroke="#111" stroke-width="0.12" font-weight="bold" textLength="12.10" lengthAdjust="spacingAndGlyphs">100%</text>
<line x1="18.70" y1="305.50" x2="233.70" y2="305.50" stroke="#1a1a1a" stroke-width="1.0"/>
<line x1="19.20" y1="305.50" x2="19.20" y2="309.10" stroke="#1a1a1a" stroke-width="0.9"/>
<line x1="54.87" y1="305.50" x2="54.87" y2="307.90" stroke="#1a1a1a" stroke-width="0.9"/>
<line x1="90.53" y1="305.50" x2="90.53" y2="309.10" stroke="#1a1a1a" stroke-width="0.9"/>
<line x1="126.20" y1="305.50" x2="126.20" y2="307.90" stroke="#1a1a1a" stroke-width="0.9"/>
<line x1="161.87" y1="305.50" x2="161.87" y2="309.10" stroke="#1a1a1a" stroke-width="0.9"/>
<line x1="197.53" y1="305.50" x2="197.53" y2="307.90" stroke="#1a1a1a" stroke-width="0.9"/>
<line x1="233.20" y1="305.50" x2="233.20" y2="309.10" stroke="#1a1a1a" stroke-width="0.9"/>
<text x="18.27" y="315.55" font-size="4.3" fill="#111" stroke="#111" stroke-width="0.12" font-weight="bold" textLength="2.45" lengthAdjust="spacingAndGlyphs">0</text>
<text x="89.61" y="315.55" font-size="4.3" fill="#111" stroke="#111" stroke-width="0.12" font-weight="bold" textLength="2.45" lengthAdjust="spacingAndGlyphs">2</text>
<text x="160.94" y="315.55" font-size="4.3" fill="#111" stroke="#111" stroke-width="0.12" font-weight="bold" textLength="2.45" lengthAdjust="spacingAndGlyphs">4</text>
<text x="232.28" y="315.55" font-size="4.3" fill="#111" stroke="#111" stroke-width="0.12" font-weight="bold" textLength="2.45" lengthAdjust="spacingAndGlyphs">6</text>
<text x="76.95" y="321.83" font-size="4.8" fill="#111" stroke="#111" stroke-width="0.12" font-weight="bold" textLength="7.30" lengthAdjust="spacingAndGlyphs">Yrs</text>
<text x="86.95" y="321.83" font-size="4.8" fill="#111" stroke="#111" stroke-width="0.12" font-weight="bold" textLength="10.40" lengthAdjust="spacingAndGlyphs">from</text>
<text x="99.25" y="321.83" font-size="4.8" fill="#111" stroke="#111" stroke-width="0.12" font-weight="bold" textLength="5.80" lengthAdjust="spacingAndGlyphs">90</text>
<text x="107.35" y="321.83" font-size="4.8" fill="#111" stroke="#111" stroke-width="0.12" font-weight="bold" textLength="8.90" lengthAdjust="spacingAndGlyphs">Day</text>
<text x="119.25" y="321.83" font-size="4.8" fill="#111" stroke="#111" stroke-width="0.12" font-weight="bold" textLength="22.40" lengthAdjust="spacingAndGlyphs">Landmark</text>
<text x="144.25" y="321.83" font-size="4.8" fill="#111" stroke="#111" stroke-width="0.12" font-weight="bold" textLength="11.20" lengthAdjust="spacingAndGlyphs">After</text>
<text x="157.75" y="321.83" font-size="4.8" fill="#111" stroke="#111" stroke-width="0.12" font-weight="bold" textLength="17.70" lengthAdjust="spacingAndGlyphs">Relapse</text>
<text x="235.00" y="187.03" font-size="4.8" fill="#111" stroke="#111" stroke-width="0.12" font-weight="bold" textLength="2.40" lengthAdjust="spacingAndGlyphs">1</text>
<text x="238.50" y="187.03" font-size="4.8" fill="#111" stroke="#111" stroke-width="0.12" font-weight="bold" textLength="2.70" lengthAdjust="spacingAndGlyphs">−</text>
<text x="243.20" y="187.03" font-size="4.8" fill="#111" stroke="#111" stroke-width="0.12" font-weight="bold" textLength="9.40" lengthAdjust="spacingAndGlyphs">Year</text>
<text x="205.00" y="193.75" font-size="4.8" fill="#111" stroke="#111" stroke-width="0.12" font-weight="bold" textLength="15.80" lengthAdjust="spacingAndGlyphs">Deaths</text>
<text x="223.50" y="193.75" font-size="4.8" fill="#111" stroke="#111" stroke-width="0.12" font-weight="bold" textLength="1.90" lengthAdjust="spacingAndGlyphs">/</text>
<text x="228.00" y="193.75" font-size="4.8" fill="#111" stroke="#111" stroke-width="0.12" font-weight="bold" textLength="3.00" lengthAdjust="spacingAndGlyphs">N</text>
<text x="233.10" y="193.75" font-size="4.8" fill="#111" stroke="#111" stroke-width="0.12" font-weight="bold" textLength="19.50" lengthAdjust="spacingAndGlyphs">Estimate</text>
<text x="122.90" y="200.47" font-size="4.8" fill="#1c1cbc" stroke="#1c1cbc" stroke-width="0.12" font-weight="bold" textLength="11.70" lengthAdjust="spacingAndGlyphs">Urine</text>
<text x="136.50" y="200.47" font-size="4.8" fill="#1c1cbc" stroke="#1c1cbc" stroke-width="0.12" font-weight="bold" textLength="3.90" lengthAdjust="spacingAndGlyphs">M</text>
<text x="142.50" y="200.47" font-size="4.8" fill="#1c1cbc" stroke="#1c1cbc" stroke-width="0.12" font-weight="bold" textLength="2.50" lengthAdjust="spacingAndGlyphs">−</text>
<text x="146.80" y="200.47" font-size="4.8" fill="#1c1cbc" stroke="#1c1cbc" stroke-width="0.12" font-weight="bold" textLength="16.10" lengthAdjust="spacingAndGlyphs">protein</text>
<text x="165.00" y="200.47" font-size="4.8" fill="#1c1cbc" stroke="#1c1cbc" stroke-width="0.12" font-weight="bold" textLength="3.10" lengthAdjust="spacingAndGlyphs">&lt;</text>
<text x="169.60" y="200.47" font-size="4.8" fill="#1c1cbc" stroke="#1c1cbc" stroke-width="0.12" font-weight="bold" textLength="3.30" lengthAdjust="spacingAndGlyphs">=</text>
<text x="178.10" y="200.47" font-size="4.8" fill="#1c1cbc" stroke="#1c1cbc" stroke-width="0.12" font-weight="bold" textLength="8.40" lengthAdjust="spacingAndGlyphs">300</text>
<text x="188.80" y="200.47" font-size="4.8" fill="#1c1cbc" stroke="#1c1cbc" stroke-width="0.12" font-weight="bold" textLength="7.70" lengthAdjust="spacingAndGlyphs">mg</text>
<text x="122.90" y="207.19" font-size="4.8" fill="#d41c20" stroke="#d41c20" stroke-width="0.12" font-weight="bold" textLength="11.70" lengthAdjust="spacingAndGlyphs">Urine</text>
<text x="136.50" y="207.19" font-size="4.8" fill="#d41c20" stroke="#d41c20" stroke-width="0.12" font-weight="bold" textLength="3.90" lengthAdjust="spacingAndGlyphs">M</text>
<text x="142.50" y="207.19" font-size="4.8" fill="#d41c20" stroke="#d41c20" stroke-width="0.12" font-weight="bold" textLength="2.50" lengthAdjust="spacingAndGlyphs">−</text>
<text x="146.80" y="207.19" font-size="4.8" fill="#d41c20" stroke="#d41c20" stroke-width="0.12" font-weight="bold" textLength="16.10" lengthAdjust="spacingAndGlyphs">protein</text>
<text x="165.40" y="207.19" font-size="4.8" fill="#d41c20" stroke="#d41c20" stroke-width="0.12" font-weight="bold" textLength="2.70" lengthAdjust="spacingAndGlyphs">&gt;</text>
<text x="173.10" y="207.19" font-size="4.8" fill="#d41c20" stroke="#d41c20" stroke-width="0.12" font-weight="bold" textLength="7.70" lengthAdjust="spacingAndGlyphs">300</text>
<text x="183.80" y="207.19" font-size="4.8" fill="#d41c20" stroke="#d41c20" stroke-width="0.12" font-weight="bold" textLength="7.40" lengthAdjust="spacingAndGlyphs">mg</text>
<text x="209.60" y="200.47" font-size="4.8" fill="#1c1cbc" stroke="#1c1cbc" stroke-width="0.12" font-weight="bold" textLength="4.40" lengthAdjust="spacingAndGlyphs">17</text>
<text x="216.90" y="200.47" font-size="4.8" fill="#1c1cbc" stroke="#1c1cbc" stroke-width="0.12" font-weight="bold" textLength="1.40" lengthAdjust="spacingAndGlyphs">/</text>
<text x="220.70" y="200.47" font-size="4.8" fill="#1c1cbc" stroke="#1c1cbc" stroke-width="0.12" font-weight="bold" textLength="4.40" lengthAdjust="spacingAndGlyphs">43</text>
<text x="238.40" y="200.47" font-size="4.8" fill="#1c1cbc" stroke="#1c1cbc" stroke-width="0.12" font-weight="bold" textLength="9.80" lengthAdjust="spacingAndGlyphs">72%</text>
<text x="211.80" y="207.19" font-size="4.8" fill="#d41c20" stroke="#d41c20" stroke-width="0.12" font-weight="bold" textLength="2.20" lengthAdjust="spacingAndGlyphs">8</text>
<text x="216.90" y="207.19" font-size="4.8" fill="#d41c20" stroke="#d41c20" stroke-width="0.12" font-weight="bold" textLength="1.40" lengthAdjust="spacingAndGlyphs">/</text>
<text x="220.70" y="207.19" font-size="4.8" fill="#d41c20" stroke="#d41c20" stroke-width="0.12" font-weight="bold" textLength="4.40" lengthAdjust="spacingAndGlyphs">10</text>
<text x="238.40" y="207.19" font-size="4.8" fill="#d41c20" stroke="#d41c20" stroke-width="0.12" font-weight="bold" textLength="9.80" lengthAdjust="spacingAndGlyphs">70%</text>
<text x="159.10" y="213.91" font-size="4.8" fill="#111" stroke="#111" stroke-width="0.12" font-weight="bold" textLength="17.30" lengthAdjust="spacingAndGlyphs">Logrank</text>
<text x="179.70" y="213.91" font-size="4.8" fill="#111" stroke="#111" stroke-width="0.12" font-weight="bold" textLength="2.30" lengthAdjust="spacingAndGlyphs">P</text>
<text x="182.70" y="213.91" font-size="4.8" fill="#111" stroke="#111" stroke-width="0.12" font-weight="bold" textLength="2.60" lengthAdjust="spacingAndGlyphs">−</text>
<text x="186.80" y="213.91" font-size="4.8" fill="#111" stroke="#111" stroke-width="0.12" font-weight="bold" textLength="12.40" lengthAdjust="spacingAndGlyphs">value</text>
<text x="203.10" y="213.91" font-size="4.8" fill="#111" stroke="#111" stroke-width="0.12" font-weight="bold" textLength="2.80" lengthAdjust="spacingAndGlyphs">=</text>
<text x="210.50" y="213.91" font-size="4.8" fill="#111" stroke="#111" stroke-width="0.12" font-weight="bold" textLength="7.40" lengthAdjust="spacingAndGlyphs">.03</text>
<polyline points="19.20,182.90 34.40,182.90 34.40,207.50 51.10,207.50 51.10,218.40 54.30,218.40 54.30,231.50 61.80,231.50 61.80,243.60 75.20,243.60 75.20,259.00 80.20,259.00 80.20,274.60 81.30,274.60 81.30,290.40 149.40,290.40" fill="none" stroke="#dc2828" stroke-width="1.0" stroke-linejoin="miter"/>
<polyline points="19.20,182.90 21.10,182.90 21.70,184.70 22.90,185.30 25.30,185.30 25.30,186.50 26.50,186.50 26.50,187.70 27.70,187.70 27.70,189.50 28.90,189.50 28.90,191.40 34.40,191.40 35.00,193.20 36.20,193.20 36.20,196.20 37.40,196.20 37.40,198.60 38.60,198.60 38.60,201.10 39.80,201.10 39.80,205.30 40.50,205.30 40.50,208.30 41.10,209.50 42.30,209.50 43.50,209.50 43.50,211.40 44.70,211.40 44.70,213.20 45.90,213.80 47.70,213.80 49.50,213.80 49.50,215.00 50.80,215.00 50.80,216.90 74.40,216.90 75.00,219.40 76.70,219.40 76.70,220.20 77.50,220.20 77.50,223.40 79.10,223.40 79.10,225.00 81.50,225.00 82.30,225.00 82.30,226.70 83.90,226.70 83.90,229.10 88.40,229.10 88.80,233.90 121.50,233.90 121.50,242.00 182.40,242.00 182.40,263.10 219.80,263.10" fill="none" stroke="#2626d4" stroke-width="1.05" stroke-linejoin="miter"/>
<line x1="21.10" y1="180.50" x2="21.10" y2="183.30" stroke="#2626d4" stroke-width="0.9"/>
<line x1="56.80" y1="214.50" x2="56.80" y2="217.30" stroke="#2626d4" stroke-width="0.9"/>
<line x1="75.80" y1="217.00" x2="75.80" y2="219.80" stroke="#2626d4" stroke-width="0.9"/>
<line x1="80.00" y1="222.20" x2="80.00" y2="225.00" stroke="#2626d4" stroke-width="0.9"/>
<line x1="87.00" y1="226.70" x2="87.00" y2="229.50" stroke="#2626d4" stroke-width="0.9"/>
<line x1="95.80" y1="231.50" x2="95.80" y2="234.30" stroke="#2626d4" stroke-width="0.9"/>
<line x1="100.40" y1="231.50" x2="100.40" y2="234.30" stroke="#2626d4" stroke-width="0.9"/>
<line x1="103.90" y1="231.50" x2="103.90" y2="234.30" stroke="#2626d4" stroke-width="0.9"/>
<line x1="107.40" y1="231.50" x2="107.40" y2="234.30" stroke="#2626d4" stroke-width="0.9"/>
<line x1="124.60" y1="239.60" x2="124.60" y2="242.40" stroke="#2626d4" stroke-width="0.9"/>
<line x1="147.50" y1="239.60" x2="147.50" y2="242.40" stroke="#2626d4" stroke-width="0.9"/>
<line x1="150.70" y1="239.60" x2="150.70" y2="242.40" stroke="#2626d4" stroke-width="0.9"/>
<line x1="152.00" y1="239.60" x2="152.00" y2="242.40" stroke="#2626d4" stroke-width="0.9"/>
<line x1="165.00" y1="239.60" x2="165.00" y2="242.40" stroke="#2626d4" stroke-width="0.9"/>
<line x1="183.90" y1="260.70" x2="183.90" y2="263.50" stroke="#2626d4" stroke-width="0.9"/>
<line x1="219.80" y1="260.70" x2="219.80" y2="263.50" stroke="#2626d4" stroke-width="0.9"/>
<line x1="74.40" y1="241.20" x2="74.40" y2="244.00" stroke="#dc2828" stroke-width="0.9"/>
<line x1="149.40" y1="288.00" x2="149.40" y2="290.80" stroke="#dc2828" stroke-width="0.9"/>
<text x="266.3" y="172.7" font-size="12.4" font-weight="bold" fill="#000" stroke="#000" stroke-width="0.45">D</text>
<text x="296.50" y="169.03" font-size="6.2" fill="#0a0a0a" stroke="#0a0a0a" stroke-width="0.36" font-weight="normal" textLength="20.00" lengthAdjust="spacingAndGlyphs">Overall</text>
<text x="319.20" y="169.03" font-size="6.2" fill="#0a0a0a" stroke="#0a0a0a" stroke-width="0.36" font-weight="normal" textLength="21.60" lengthAdjust="spacingAndGlyphs">Survival</text>
<text x="343.90" y="169.03" font-size="6.2" fill="#0a0a0a" stroke="#0a0a0a" stroke-width="0.36" font-weight="normal" textLength="7.60" lengthAdjust="spacingAndGlyphs">by</text>
<text x="354.70" y="169.03" font-size="6.2" fill="#0a0a0a" stroke="#0a0a0a" stroke-width="0.36" font-weight="normal" textLength="18.10" lengthAdjust="spacingAndGlyphs">Serum</text>
<text x="377.40" y="169.03" font-size="6.2" fill="#0a0a0a" stroke="#0a0a0a" stroke-width="0.36" font-weight="normal" textLength="4.60" lengthAdjust="spacingAndGlyphs">M</text>
<text x="383.10" y="169.03" font-size="6.2" fill="#0a0a0a" stroke="#0a0a0a" stroke-width="0.36" font-weight="normal" textLength="3.50" lengthAdjust="spacingAndGlyphs">−</text>
<text x="388.10" y="169.03" font-size="6.2" fill="#0a0a0a" stroke="#0a0a0a" stroke-width="0.36" font-weight="normal" textLength="20.80" lengthAdjust="spacingAndGlyphs">Protein</text>
<text x="411.60" y="169.03" font-size="6.2" fill="#0a0a0a" stroke="#0a0a0a" stroke-width="0.36" font-weight="normal" textLength="16.50" lengthAdjust="spacingAndGlyphs">within</text>
<text x="431.20" y="169.03" font-size="6.2" fill="#0a0a0a" stroke="#0a0a0a" stroke-width="0.36" font-weight="normal" textLength="7.30" lengthAdjust="spacingAndGlyphs">90</text>
<text x="441.10" y="169.03" font-size="6.2" fill="#0a0a0a" stroke="#0a0a0a" stroke-width="0.36" font-weight="normal" textLength="15.00" lengthAdjust="spacingAndGlyphs">Days</text>
<text x="459.60" y="169.03" font-size="6.2" fill="#0a0a0a" stroke="#0a0a0a" stroke-width="0.36" font-weight="normal" textLength="4.20" lengthAdjust="spacingAndGlyphs">of</text>
<text x="467.70" y="169.03" font-size="6.2" fill="#0a0a0a" stroke="#0a0a0a" stroke-width="0.36" font-weight="normal" textLength="22.50" lengthAdjust="spacingAndGlyphs">Relapse</text>
<text x="340.10" y="177.23" font-size="6.2" fill="#0a0a0a" stroke="#0a0a0a" stroke-width="0.36" font-weight="normal" textLength="7.20" lengthAdjust="spacingAndGlyphs">for</text>
<text x="350.80" y="177.23" font-size="6.2" fill="#0a0a0a" stroke="#0a0a0a" stroke-width="0.36" font-weight="normal" textLength="23.30" lengthAdjust="spacingAndGlyphs">Baseline</text>
<text x="378.00" y="177.23" font-size="6.2" fill="#0a0a0a" stroke="#0a0a0a" stroke-width="0.36" font-weight="normal" textLength="13.00" lengthAdjust="spacingAndGlyphs">GEP</text>
<text x="394.10" y="177.23" font-size="6.2" fill="#0a0a0a" stroke="#0a0a0a" stroke-width="0.36" font-weight="normal" textLength="11.90" lengthAdjust="spacingAndGlyphs">Low</text>
<text x="409.10" y="177.23" font-size="6.2" fill="#0a0a0a" stroke="#0a0a0a" stroke-width="0.36" font-weight="normal" textLength="11.90" lengthAdjust="spacingAndGlyphs">Risk</text>
<text x="424.10" y="177.23" font-size="6.2" fill="#0a0a0a" stroke="#0a0a0a" stroke-width="0.36" font-weight="normal" textLength="21.90" lengthAdjust="spacingAndGlyphs">Patients</text>
<line x1="285.90" y1="180.30" x2="285.90" y2="306.30" stroke="#1a1a1a" stroke-width="0.9"/>
<line x1="281.10" y1="305.80" x2="285.90" y2="305.80" stroke="#222" stroke-width="0.9"/>
<line x1="283.50" y1="293.51" x2="285.90" y2="293.51" stroke="#222" stroke-width="0.9"/>
<line x1="281.10" y1="281.22" x2="285.90" y2="281.22" stroke="#222" stroke-width="0.9"/>
<line x1="283.50" y1="268.93" x2="285.90" y2="268.93" stroke="#222" stroke-width="0.9"/>
<line x1="281.10" y1="256.64" x2="285.90" y2="256.64" stroke="#222" stroke-width="0.9"/>
<line x1="283.50" y1="244.35" x2="285.90" y2="244.35" stroke="#222" stroke-width="0.9"/>
<line x1="281.10" y1="232.06" x2="285.90" y2="232.06" stroke="#222" stroke-width="0.9"/>
<line x1="283.50" y1="219.77" x2="285.90" y2="219.77" stroke="#222" stroke-width="0.9"/>
<line x1="281.10" y1="207.48" x2="285.90" y2="207.48" stroke="#222" stroke-width="0.9"/>
<line x1="283.50" y1="195.19" x2="285.90" y2="195.19" stroke="#222" stroke-width="0.9"/>
<line x1="281.10" y1="182.90" x2="285.90" y2="182.90" stroke="#222" stroke-width="0.9"/>
<text x="271.70" y="308.85" font-size="4.3" fill="#111" stroke="#111" stroke-width="0.12" font-weight="bold" textLength="6.90" lengthAdjust="spacingAndGlyphs">0%</text>
<text x="269.10" y="284.27" font-size="4.3" fill="#111" stroke="#111" stroke-width="0.12" font-weight="bold" textLength="9.50" lengthAdjust="spacingAndGlyphs">20%</text>
<text x="269.10" y="259.69" font-size="4.3" fill="#111" stroke="#111" stroke-width="0.12" font-weight="bold" textLength="9.50" lengthAdjust="spacingAndGlyphs">40%</text>
<text x="269.10" y="235.11" font-size="4.3" fill="#111" stroke="#111" stroke-width="0.12" font-weight="bold" textLength="9.50" lengthAdjust="spacingAndGlyphs">60%</text>
<text x="269.10" y="210.53" font-size="4.3" fill="#111" stroke="#111" stroke-width="0.12" font-weight="bold" textLength="9.50" lengthAdjust="spacingAndGlyphs">80%</text>
<text x="266.50" y="185.95" font-size="4.3" fill="#111" stroke="#111" stroke-width="0.12" font-weight="bold" textLength="12.10" lengthAdjust="spacingAndGlyphs">100%</text>
<line x1="285.40" y1="305.80" x2="500.70" y2="305.80" stroke="#1a1a1a" stroke-width="1.0"/>
<line x1="285.90" y1="305.80" x2="285.90" y2="309.40" stroke="#1a1a1a" stroke-width="0.9"/>
<line x1="328.76" y1="305.80" x2="328.76" y2="309.40" stroke="#1a1a1a" stroke-width="0.9"/>
<line x1="371.62" y1="305.80" x2="371.62" y2="309.40" stroke="#1a1a1a" stroke-width="0.9"/>
<line x1="414.48" y1="305.80" x2="414.48" y2="309.40" stroke="#1a1a1a" stroke-width="0.9"/>
<line x1="457.34" y1="305.80" x2="457.34" y2="309.40" stroke="#1a1a1a" stroke-width="0.9"/>
<line x1="500.20" y1="305.80" x2="500.20" y2="309.40" stroke="#1a1a1a" stroke-width="0.9"/>
<text x="284.97" y="315.85" font-size="4.3" fill="#111" stroke="#111" stroke-width="0.12" font-weight="bold" textLength="2.45" lengthAdjust="spacingAndGlyphs">0</text>
<text x="327.83" y="315.85" font-size="4.3" fill="#111" stroke="#111" stroke-width="0.12" font-weight="bold" textLength="2.45" lengthAdjust="spacingAndGlyphs">1</text>
<text x="370.69" y="315.85" font-size="4.3" fill="#111" stroke="#111" stroke-width="0.12" font-weight="bold" textLength="2.45" lengthAdjust="spacingAndGlyphs">2</text>
<text x="413.56" y="315.85" font-size="4.3" fill="#111" stroke="#111" stroke-width="0.12" font-weight="bold" textLength="2.45" lengthAdjust="spacingAndGlyphs">3</text>
<text x="456.41" y="315.85" font-size="4.3" fill="#111" stroke="#111" stroke-width="0.12" font-weight="bold" textLength="2.45" lengthAdjust="spacingAndGlyphs">4</text>
<text x="499.27" y="315.85" font-size="4.3" fill="#111" stroke="#111" stroke-width="0.12" font-weight="bold" textLength="2.45" lengthAdjust="spacingAndGlyphs">5</text>
<text x="343.80" y="322.13" font-size="4.8" fill="#111" stroke="#111" stroke-width="0.12" font-weight="bold" textLength="7.30" lengthAdjust="spacingAndGlyphs">Yrs</text>
<text x="353.80" y="322.13" font-size="4.8" fill="#111" stroke="#111" stroke-width="0.12" font-weight="bold" textLength="10.40" lengthAdjust="spacingAndGlyphs">from</text>
<text x="366.10" y="322.13" font-size="4.8" fill="#111" stroke="#111" stroke-width="0.12" font-weight="bold" textLength="5.80" lengthAdjust="spacingAndGlyphs">90</text>
<text x="374.20" y="322.13" font-size="4.8" fill="#111" stroke="#111" stroke-width="0.12" font-weight="bold" textLength="8.90" lengthAdjust="spacingAndGlyphs">Day</text>
<text x="386.10" y="322.13" font-size="4.8" fill="#111" stroke="#111" stroke-width="0.12" font-weight="bold" textLength="22.40" lengthAdjust="spacingAndGlyphs">Landmark</text>
<text x="411.10" y="322.13" font-size="4.8" fill="#111" stroke="#111" stroke-width="0.12" font-weight="bold" textLength="11.20" lengthAdjust="spacingAndGlyphs">After</text>
<text x="424.60" y="322.13" font-size="4.8" fill="#111" stroke="#111" stroke-width="0.12" font-weight="bold" textLength="17.70" lengthAdjust="spacingAndGlyphs">Relapse</text>
<text x="501.70" y="274.03" font-size="4.8" fill="#111" stroke="#111" stroke-width="0.12" font-weight="bold" textLength="2.40" lengthAdjust="spacingAndGlyphs">1</text>
<text x="505.20" y="274.03" font-size="4.8" fill="#111" stroke="#111" stroke-width="0.12" font-weight="bold" textLength="2.70" lengthAdjust="spacingAndGlyphs">−</text>
<text x="509.90" y="274.03" font-size="4.8" fill="#111" stroke="#111" stroke-width="0.12" font-weight="bold" textLength="9.40" lengthAdjust="spacingAndGlyphs">Year</text>
<text x="471.70" y="280.75" font-size="4.8" fill="#111" stroke="#111" stroke-width="0.12" font-weight="bold" textLength="15.80" lengthAdjust="spacingAndGlyphs">Deaths</text>
<text x="490.20" y="280.75" font-size="4.8" fill="#111" stroke="#111" stroke-width="0.12" font-weight="bold" textLength="1.90" lengthAdjust="spacingAndGlyphs">/</text>
<text x="494.70" y="280.75" font-size="4.8" fill="#111" stroke="#111" stroke-width="0.12" font-weight="bold" textLength="3.00" lengthAdjust="spacingAndGlyphs">N</text>
<text x="499.80" y="280.75" font-size="4.8" fill="#111" stroke="#111" stroke-width="0.12" font-weight="bold" textLength="19.50" lengthAdjust="spacingAndGlyphs">Estimate</text>
<text x="386.30" y="287.47" font-size="4.8" fill="#1c1cbc" stroke="#1c1cbc" stroke-width="0.12" font-weight="bold" textLength="15.00" lengthAdjust="spacingAndGlyphs">Serum</text>
<text x="403.20" y="287.47" font-size="4.8" fill="#1c1cbc" stroke="#1c1cbc" stroke-width="0.12" font-weight="bold" textLength="3.90" lengthAdjust="spacingAndGlyphs">M</text>
<text x="408.60" y="287.47" font-size="4.8" fill="#1c1cbc" stroke="#1c1cbc" stroke-width="0.12" font-weight="bold" textLength="2.70" lengthAdjust="spacingAndGlyphs">−</text>
<text x="412.70" y="287.47" font-size="4.8" fill="#1c1cbc" stroke="#1c1cbc" stroke-width="0.12" font-weight="bold" textLength="16.10" lengthAdjust="spacingAndGlyphs">protein</text>
<text x="431.90" y="287.47" font-size="4.8" fill="#1c1cbc" stroke="#1c1cbc" stroke-width="0.12" font-weight="bold" textLength="2.60" lengthAdjust="spacingAndGlyphs">&lt;</text>
<text x="436.20" y="287.47" font-size="4.8" fill="#1c1cbc" stroke="#1c1cbc" stroke-width="0.12" font-weight="bold" textLength="3.40" lengthAdjust="spacingAndGlyphs">=</text>
<text x="444.00" y="287.47" font-size="4.8" fill="#1c1cbc" stroke="#1c1cbc" stroke-width="0.12" font-weight="bold" textLength="6.80" lengthAdjust="spacingAndGlyphs">1.5</text>
<text x="452.70" y="287.47" font-size="4.8" fill="#1c1cbc" stroke="#1c1cbc" stroke-width="0.12" font-weight="bold" textLength="10.40" lengthAdjust="spacingAndGlyphs">g/dL</text>
<text x="386.30" y="294.19" font-size="4.8" fill="#d41c20" stroke="#d41c20" stroke-width="0.12" font-weight="bold" textLength="15.00" lengthAdjust="spacingAndGlyphs">Serum</text>
<text x="403.20" y="294.19" font-size="4.8" fill="#d41c20" stroke="#d41c20" stroke-width="0.12" font-weight="bold" textLength="3.90" lengthAdjust="spacingAndGlyphs">M</text>
<text x="408.60" y="294.19" font-size="4.8" fill="#d41c20" stroke="#d41c20" stroke-width="0.12" font-weight="bold" textLength="2.70" lengthAdjust="spacingAndGlyphs">−</text>
<text x="412.70" y="294.19" font-size="4.8" fill="#d41c20" stroke="#d41c20" stroke-width="0.12" font-weight="bold" textLength="16.10" lengthAdjust="spacingAndGlyphs">protein</text>
<text x="431.90" y="294.19" font-size="4.8" fill="#d41c20" stroke="#d41c20" stroke-width="0.12" font-weight="bold" textLength="2.70" lengthAdjust="spacingAndGlyphs">&gt;</text>
<text x="439.40" y="294.19" font-size="4.8" fill="#d41c20" stroke="#d41c20" stroke-width="0.12" font-weight="bold" textLength="6.20" lengthAdjust="spacingAndGlyphs">1.5</text>
<text x="447.50" y="294.19" font-size="4.8" fill="#d41c20" stroke="#d41c20" stroke-width="0.12" font-weight="bold" textLength="10.20" lengthAdjust="spacingAndGlyphs">g/dL</text>
<text x="476.30" y="287.47" font-size="4.8" fill="#1c1cbc" stroke="#1c1cbc" stroke-width="0.12" font-weight="bold" textLength="4.40" lengthAdjust="spacingAndGlyphs">12</text>
<text x="483.60" y="287.47" font-size="4.8" fill="#1c1cbc" stroke="#1c1cbc" stroke-width="0.12" font-weight="bold" textLength="1.40" lengthAdjust="spacingAndGlyphs">/</text>
<text x="487.40" y="287.47" font-size="4.8" fill="#1c1cbc" stroke="#1c1cbc" stroke-width="0.12" font-weight="bold" textLength="4.40" lengthAdjust="spacingAndGlyphs">21</text>
<text x="505.10" y="287.47" font-size="4.8" fill="#1c1cbc" stroke="#1c1cbc" stroke-width="0.12" font-weight="bold" textLength="9.80" lengthAdjust="spacingAndGlyphs">56%</text>
<text x="476.30" y="294.19" font-size="4.8" fill="#d41c20" stroke="#d41c20" stroke-width="0.12" font-weight="bold" textLength="4.40" lengthAdjust="spacingAndGlyphs">17</text>
<text x="483.60" y="294.19" font-size="4.8" fill="#d41c20" stroke="#d41c20" stroke-width="0.12" font-weight="bold" textLength="1.40" lengthAdjust="spacingAndGlyphs">/</text>
<text x="487.40" y="294.19" font-size="4.8" fill="#d41c20" stroke="#d41c20" stroke-width="0.12" font-weight="bold" textLength="4.40" lengthAdjust="spacingAndGlyphs">42</text>
<text x="505.10" y="294.19" font-size="4.8" fill="#d41c20" stroke="#d41c20" stroke-width="0.12" font-weight="bold" textLength="9.80" lengthAdjust="spacingAndGlyphs">76%</text>
<text x="423.90" y="300.91" font-size="4.8" fill="#111" stroke="#111" stroke-width="0.12" font-weight="bold" textLength="17.30" lengthAdjust="spacingAndGlyphs">Logrank</text>
<text x="444.50" y="300.91" font-size="4.8" fill="#111" stroke="#111" stroke-width="0.12" font-weight="bold" textLength="2.30" lengthAdjust="spacingAndGlyphs">P</text>
<text x="447.50" y="300.91" font-size="4.8" fill="#111" stroke="#111" stroke-width="0.12" font-weight="bold" textLength="2.60" lengthAdjust="spacingAndGlyphs">−</text>
<text x="451.60" y="300.91" font-size="4.8" fill="#111" stroke="#111" stroke-width="0.12" font-weight="bold" textLength="12.40" lengthAdjust="spacingAndGlyphs">value</text>
<text x="467.90" y="300.91" font-size="4.8" fill="#111" stroke="#111" stroke-width="0.12" font-weight="bold" textLength="2.80" lengthAdjust="spacingAndGlyphs">=</text>
<text x="475.30" y="300.91" font-size="4.8" fill="#111" stroke="#111" stroke-width="0.12" font-weight="bold" textLength="7.40" lengthAdjust="spacingAndGlyphs">.15</text>
<polyline points="285.90,182.40 305.40,182.40 305.40,185.60 307.30,185.60 307.30,189.40 308.90,189.40 308.90,193.50 310.10,193.50 310.10,198.20 315.80,198.20 315.80,200.00 317.00,200.00 317.00,202.10 322.70,202.10 322.70,205.00 323.90,205.00 323.90,209.20 325.00,209.20 325.00,212.10 328.50,212.10 328.50,216.40 351.60,216.40 351.60,218.90 353.40,218.90 353.40,222.30 355.00,222.30 355.00,226.00 357.40,226.00 357.40,229.20 360.80,229.20 360.80,232.70 368.80,232.70 368.80,238.70 408.00,238.70 408.00,247.30 481.40,247.30 481.40,275.50" fill="none" stroke="#dc2828" stroke-width="1.05" stroke-linejoin="miter"/>
<polyline points="285.90,182.90 289.00,182.90 289.00,194.30 294.20,194.30 294.60,200.30 296.90,200.30 297.10,217.00 303.80,217.00 304.20,217.00 304.20,220.40 304.60,220.40 304.60,223.80 310.20,223.80 310.80,229.20 314.80,229.20 315.40,235.70 337.30,235.70 337.70,242.30 359.40,242.30 359.70,248.90 362.30,248.90 362.70,255.80 445.80,255.80" fill="none" stroke="#2626d4" stroke-width="1.05" stroke-linejoin="miter"/>
<line x1="289.70" y1="180.20" x2="289.70" y2="183.00" stroke="#dc2828" stroke-width="0.9"/>
<line x1="291.80" y1="180.20" x2="291.80" y2="183.00" stroke="#dc2828" stroke-width="0.9"/>
<line x1="295.40" y1="180.20" x2="295.40" y2="183.00" stroke="#dc2828" stroke-width="0.9"/>
<line x1="315.40" y1="196.80" x2="315.40" y2="199.60" stroke="#dc2828" stroke-width="0.9"/>
<line x1="319.60" y1="199.10" x2="319.60" y2="201.90" stroke="#dc2828" stroke-width="0.9"/>
<line x1="327.60" y1="209.90" x2="327.60" y2="212.70" stroke="#dc2828" stroke-width="0.9"/>
<line x1="352.30" y1="213.80" x2="352.30" y2="216.60" stroke="#dc2828" stroke-width="0.9"/>
<line x1="377.70" y1="236.10" x2="377.70" y2="238.90" stroke="#dc2828" stroke-width="0.9"/>
<line x1="388.10" y1="236.10" x2="388.10" y2="238.90" stroke="#dc2828" stroke-width="0.9"/>
<line x1="391.60" y1="236.10" x2="391.60" y2="238.90" stroke="#dc2828" stroke-width="0.9"/>
<line x1="440.00" y1="244.90" x2="440.00" y2="247.70" stroke="#dc2828" stroke-width="0.9"/>
<line x1="444.20" y1="244.90" x2="444.20" y2="247.70" stroke="#dc2828" stroke-width="0.9"/>
<line x1="460.40" y1="244.90" x2="460.40" y2="247.70" stroke="#dc2828" stroke-width="0.9"/>
<line x1="481.40" y1="273.10" x2="481.40" y2="275.90" stroke="#dc2828" stroke-width="0.9"/>
<line x1="367.30" y1="253.40" x2="367.30" y2="256.20" stroke="#2626d4" stroke-width="0.9"/>
<line x1="370.30" y1="253.40" x2="370.30" y2="256.20" stroke="#2626d4" stroke-width="0.9"/>
<line x1="377.70" y1="253.40" x2="377.70" y2="256.20" stroke="#2626d4" stroke-width="0.9"/>
<line x1="378.90" y1="253.40" x2="378.90" y2="256.20" stroke="#2626d4" stroke-width="0.9"/>
<line x1="383.50" y1="253.40" x2="383.50" y2="256.20" stroke="#2626d4" stroke-width="0.9"/>
<line x1="442.40" y1="253.40" x2="442.40" y2="256.20" stroke="#2626d4" stroke-width="0.9"/>
<line x1="445.80" y1="253.40" x2="445.80" y2="256.20" stroke="#2626d4" stroke-width="0.9"/>
<text x="31.50" y="339.83" font-size="6.2" fill="#0a0a0a" stroke="#0a0a0a" stroke-width="0.36" font-weight="normal" textLength="20.00" lengthAdjust="spacingAndGlyphs">Overall</text>
<text x="54.20" y="339.83" font-size="6.2" fill="#0a0a0a" stroke="#0a0a0a" stroke-width="0.36" font-weight="normal" textLength="21.60" lengthAdjust="spacingAndGlyphs">Survival</text>
<text x="79.20" y="339.83" font-size="6.2" fill="#0a0a0a" stroke="#0a0a0a" stroke-width="0.36" font-weight="normal" textLength="7.40" lengthAdjust="spacingAndGlyphs">by</text>
<text x="89.60" y="339.83" font-size="6.2" fill="#0a0a0a" stroke="#0a0a0a" stroke-width="0.36" font-weight="normal" textLength="14.60" lengthAdjust="spacingAndGlyphs">Urine</text>
<text x="108.50" y="339.83" font-size="6.2" fill="#0a0a0a" stroke="#0a0a0a" stroke-width="0.36" font-weight="normal" textLength="4.60" lengthAdjust="spacingAndGlyphs">M</text>
<text x="114.20" y="339.83" font-size="6.2" fill="#0a0a0a" stroke="#0a0a0a" stroke-width="0.36" font-weight="normal" textLength="3.50" lengthAdjust="spacingAndGlyphs">−</text>
<text x="119.20" y="339.83" font-size="6.2" fill="#0a0a0a" stroke="#0a0a0a" stroke-width="0.36" font-weight="normal" textLength="20.80" lengthAdjust="spacingAndGlyphs">Protein</text>
<text x="142.70" y="339.83" font-size="6.2" fill="#0a0a0a" stroke="#0a0a0a" stroke-width="0.36" font-weight="normal" textLength="16.50" lengthAdjust="spacingAndGlyphs">within</text>
<text x="162.30" y="339.83" font-size="6.2" fill="#0a0a0a" stroke="#0a0a0a" stroke-width="0.36" font-weight="normal" textLength="7.30" lengthAdjust="spacingAndGlyphs">90</text>
<text x="172.20" y="339.83" font-size="6.2" fill="#0a0a0a" stroke="#0a0a0a" stroke-width="0.36" font-weight="normal" textLength="15.00" lengthAdjust="spacingAndGlyphs">Days</text>
<text x="190.70" y="339.83" font-size="6.2" fill="#0a0a0a" stroke="#0a0a0a" stroke-width="0.36" font-weight="normal" textLength="4.20" lengthAdjust="spacingAndGlyphs">of</text>
<text x="198.80" y="339.83" font-size="6.2" fill="#0a0a0a" stroke="#0a0a0a" stroke-width="0.36" font-weight="normal" textLength="22.60" lengthAdjust="spacingAndGlyphs">Relapse</text>
<text x="72.00" y="348.83" font-size="6.2" fill="#0a0a0a" stroke="#0a0a0a" stroke-width="0.36" font-weight="normal" textLength="7.50" lengthAdjust="spacingAndGlyphs">for</text>
<text x="82.70" y="348.83" font-size="6.2" fill="#0a0a0a" stroke="#0a0a0a" stroke-width="0.36" font-weight="normal" textLength="22.90" lengthAdjust="spacingAndGlyphs">Baseline</text>
<text x="110.00" y="348.83" font-size="6.2" fill="#0a0a0a" stroke="#0a0a0a" stroke-width="0.36" font-weight="normal" textLength="13.10" lengthAdjust="spacingAndGlyphs">GEP</text>
<text x="126.20" y="348.83" font-size="6.2" fill="#0a0a0a" stroke="#0a0a0a" stroke-width="0.36" font-weight="normal" textLength="13.40" lengthAdjust="spacingAndGlyphs">High</text>
<text x="142.70" y="348.83" font-size="6.2" fill="#0a0a0a" stroke="#0a0a0a" stroke-width="0.36" font-weight="normal" textLength="11.90" lengthAdjust="spacingAndGlyphs">Risk</text>
<text x="157.80" y="348.83" font-size="6.2" fill="#0a0a0a" stroke="#0a0a0a" stroke-width="0.36" font-weight="normal" textLength="21.90" lengthAdjust="spacingAndGlyphs">Patients</text>
<line x1="19.10" y1="351.90" x2="19.10" y2="477.30" stroke="#1a1a1a" stroke-width="0.9"/>
<line x1="14.30" y1="476.80" x2="19.10" y2="476.80" stroke="#222" stroke-width="0.9"/>
<line x1="16.70" y1="464.57" x2="19.10" y2="464.57" stroke="#222" stroke-width="0.9"/>
<line x1="14.30" y1="452.34" x2="19.10" y2="452.34" stroke="#222" stroke-width="0.9"/>
<line x1="16.70" y1="440.11" x2="19.10" y2="440.11" stroke="#222" stroke-width="0.9"/>
<line x1="14.30" y1="427.88" x2="19.10" y2="427.88" stroke="#222" stroke-width="0.9"/>
<line x1="16.70" y1="415.65" x2="19.10" y2="415.65" stroke="#222" stroke-width="0.9"/>
<line x1="14.30" y1="403.42" x2="19.10" y2="403.42" stroke="#222" stroke-width="0.9"/>
<line x1="16.70" y1="391.19" x2="19.10" y2="391.19" stroke="#222" stroke-width="0.9"/>
<line x1="14.30" y1="378.96" x2="19.10" y2="378.96" stroke="#222" stroke-width="0.9"/>
<line x1="16.70" y1="366.73" x2="19.10" y2="366.73" stroke="#222" stroke-width="0.9"/>
<line x1="14.30" y1="354.50" x2="19.10" y2="354.50" stroke="#222" stroke-width="0.9"/>
<text x="5.10" y="479.85" font-size="4.3" fill="#111" stroke="#111" stroke-width="0.12" font-weight="bold" textLength="6.90" lengthAdjust="spacingAndGlyphs">0%</text>
<text x="2.50" y="455.39" font-size="4.3" fill="#111" stroke="#111" stroke-width="0.12" font-weight="bold" textLength="9.50" lengthAdjust="spacingAndGlyphs">20%</text>
<text x="2.50" y="430.93" font-size="4.3" fill="#111" stroke="#111" stroke-width="0.12" font-weight="bold" textLength="9.50" lengthAdjust="spacingAndGlyphs">40%</text>
<text x="2.50" y="406.47" font-size="4.3" fill="#111" stroke="#111" stroke-width="0.12" font-weight="bold" textLength="9.50" lengthAdjust="spacingAndGlyphs">60%</text>
<text x="2.50" y="382.01" font-size="4.3" fill="#111" stroke="#111" stroke-width="0.12" font-weight="bold" textLength="9.50" lengthAdjust="spacingAndGlyphs">80%</text>
<text x="-0.10" y="357.55" font-size="4.3" fill="#111" stroke="#111" stroke-width="0.12" font-weight="bold" textLength="12.10" lengthAdjust="spacingAndGlyphs">100%</text>
<line x1="18.60" y1="476.80" x2="233.10" y2="476.80" stroke="#1a1a1a" stroke-width="1.0"/>
<line x1="19.10" y1="476.80" x2="19.10" y2="480.40" stroke="#1a1a1a" stroke-width="0.9"/>
<line x1="45.79" y1="476.80" x2="45.79" y2="479.20" stroke="#1a1a1a" stroke-width="0.9"/>
<line x1="72.47" y1="476.80" x2="72.47" y2="480.40" stroke="#1a1a1a" stroke-width="0.9"/>
<line x1="99.16" y1="476.80" x2="99.16" y2="479.20" stroke="#1a1a1a" stroke-width="0.9"/>
<line x1="125.85" y1="476.80" x2="125.85" y2="480.40" stroke="#1a1a1a" stroke-width="0.9"/>
<line x1="152.54" y1="476.80" x2="152.54" y2="479.20" stroke="#1a1a1a" stroke-width="0.9"/>
<line x1="179.22" y1="476.80" x2="179.22" y2="480.40" stroke="#1a1a1a" stroke-width="0.9"/>
<line x1="205.91" y1="476.80" x2="205.91" y2="479.20" stroke="#1a1a1a" stroke-width="0.9"/>
<line x1="232.60" y1="476.80" x2="232.60" y2="480.40" stroke="#1a1a1a" stroke-width="0.9"/>
<text x="18.18" y="486.85" font-size="4.3" fill="#111" stroke="#111" stroke-width="0.12" font-weight="bold" textLength="2.45" lengthAdjust="spacingAndGlyphs">0</text>
<text x="71.55" y="486.85" font-size="4.3" fill="#111" stroke="#111" stroke-width="0.12" font-weight="bold" textLength="2.45" lengthAdjust="spacingAndGlyphs">2</text>
<text x="124.92" y="486.85" font-size="4.3" fill="#111" stroke="#111" stroke-width="0.12" font-weight="bold" textLength="2.45" lengthAdjust="spacingAndGlyphs">4</text>
<text x="178.30" y="486.85" font-size="4.3" fill="#111" stroke="#111" stroke-width="0.12" font-weight="bold" textLength="2.45" lengthAdjust="spacingAndGlyphs">6</text>
<text x="231.68" y="486.85" font-size="4.3" fill="#111" stroke="#111" stroke-width="0.12" font-weight="bold" textLength="2.45" lengthAdjust="spacingAndGlyphs">8</text>
<text x="76.60" y="493.13" font-size="4.8" fill="#111" stroke="#111" stroke-width="0.12" font-weight="bold" textLength="7.30" lengthAdjust="spacingAndGlyphs">Yrs</text>
<text x="86.60" y="493.13" font-size="4.8" fill="#111" stroke="#111" stroke-width="0.12" font-weight="bold" textLength="10.40" lengthAdjust="spacingAndGlyphs">from</text>
<text x="98.90" y="493.13" font-size="4.8" fill="#111" stroke="#111" stroke-width="0.12" font-weight="bold" textLength="5.80" lengthAdjust="spacingAndGlyphs">90</text>
<text x="107.00" y="493.13" font-size="4.8" fill="#111" stroke="#111" stroke-width="0.12" font-weight="bold" textLength="8.90" lengthAdjust="spacingAndGlyphs">Day</text>
<text x="118.90" y="493.13" font-size="4.8" fill="#111" stroke="#111" stroke-width="0.12" font-weight="bold" textLength="22.40" lengthAdjust="spacingAndGlyphs">Landmark</text>
<text x="143.90" y="493.13" font-size="4.8" fill="#111" stroke="#111" stroke-width="0.12" font-weight="bold" textLength="11.20" lengthAdjust="spacingAndGlyphs">After</text>
<text x="157.40" y="493.13" font-size="4.8" fill="#111" stroke="#111" stroke-width="0.12" font-weight="bold" textLength="17.70" lengthAdjust="spacingAndGlyphs">Relapse</text>
<text x="235.00" y="358.53" font-size="4.8" fill="#111" stroke="#111" stroke-width="0.12" font-weight="bold" textLength="2.40" lengthAdjust="spacingAndGlyphs">1</text>
<text x="238.50" y="358.53" font-size="4.8" fill="#111" stroke="#111" stroke-width="0.12" font-weight="bold" textLength="2.70" lengthAdjust="spacingAndGlyphs">−</text>
<text x="243.20" y="358.53" font-size="4.8" fill="#111" stroke="#111" stroke-width="0.12" font-weight="bold" textLength="9.40" lengthAdjust="spacingAndGlyphs">Year</text>
<text x="205.00" y="365.25" font-size="4.8" fill="#111" stroke="#111" stroke-width="0.12" font-weight="bold" textLength="15.80" lengthAdjust="spacingAndGlyphs">Deaths</text>
<text x="223.50" y="365.25" font-size="4.8" fill="#111" stroke="#111" stroke-width="0.12" font-weight="bold" textLength="1.90" lengthAdjust="spacingAndGlyphs">/</text>
<text x="228.00" y="365.25" font-size="4.8" fill="#111" stroke="#111" stroke-width="0.12" font-weight="bold" textLength="3.00" lengthAdjust="spacingAndGlyphs">N</text>
<text x="233.10" y="365.25" font-size="4.8" fill="#111" stroke="#111" stroke-width="0.12" font-weight="bold" textLength="19.50" lengthAdjust="spacingAndGlyphs">Estimate</text>
<text x="122.90" y="371.97" font-size="4.8" fill="#1c1cbc" stroke="#1c1cbc" stroke-width="0.12" font-weight="bold" textLength="11.70" lengthAdjust="spacingAndGlyphs">Urine</text>
<text x="136.50" y="371.97" font-size="4.8" fill="#1c1cbc" stroke="#1c1cbc" stroke-width="0.12" font-weight="bold" textLength="3.90" lengthAdjust="spacingAndGlyphs">M</text>
<text x="142.50" y="371.97" font-size="4.8" fill="#1c1cbc" stroke="#1c1cbc" stroke-width="0.12" font-weight="bold" textLength="2.50" lengthAdjust="spacingAndGlyphs">−</text>
<text x="146.80" y="371.97" font-size="4.8" fill="#1c1cbc" stroke="#1c1cbc" stroke-width="0.12" font-weight="bold" textLength="16.10" lengthAdjust="spacingAndGlyphs">protein</text>
<text x="165.00" y="371.97" font-size="4.8" fill="#1c1cbc" stroke="#1c1cbc" stroke-width="0.12" font-weight="bold" textLength="3.10" lengthAdjust="spacingAndGlyphs">&lt;</text>
<text x="169.60" y="371.97" font-size="4.8" fill="#1c1cbc" stroke="#1c1cbc" stroke-width="0.12" font-weight="bold" textLength="3.30" lengthAdjust="spacingAndGlyphs">=</text>
<text x="178.10" y="371.97" font-size="4.8" fill="#1c1cbc" stroke="#1c1cbc" stroke-width="0.12" font-weight="bold" textLength="8.40" lengthAdjust="spacingAndGlyphs">300</text>
<text x="188.80" y="371.97" font-size="4.8" fill="#1c1cbc" stroke="#1c1cbc" stroke-width="0.12" font-weight="bold" textLength="7.70" lengthAdjust="spacingAndGlyphs">mg</text>
<text x="122.90" y="378.69" font-size="4.8" fill="#d41c20" stroke="#d41c20" stroke-width="0.12" font-weight="bold" textLength="11.70" lengthAdjust="spacingAndGlyphs">Urine</text>
<text x="136.50" y="378.69" font-size="4.8" fill="#d41c20" stroke="#d41c20" stroke-width="0.12" font-weight="bold" textLength="3.90" lengthAdjust="spacingAndGlyphs">M</text>
<text x="142.50" y="378.69" font-size="4.8" fill="#d41c20" stroke="#d41c20" stroke-width="0.12" font-weight="bold" textLength="2.50" lengthAdjust="spacingAndGlyphs">−</text>
<text x="146.80" y="378.69" font-size="4.8" fill="#d41c20" stroke="#d41c20" stroke-width="0.12" font-weight="bold" textLength="16.10" lengthAdjust="spacingAndGlyphs">protein</text>
<text x="165.40" y="378.69" font-size="4.8" fill="#d41c20" stroke="#d41c20" stroke-width="0.12" font-weight="bold" textLength="2.70" lengthAdjust="spacingAndGlyphs">&gt;</text>
<text x="173.10" y="378.69" font-size="4.8" fill="#d41c20" stroke="#d41c20" stroke-width="0.12" font-weight="bold" textLength="7.70" lengthAdjust="spacingAndGlyphs">300</text>
<text x="183.80" y="378.69" font-size="4.8" fill="#d41c20" stroke="#d41c20" stroke-width="0.12" font-weight="bold" textLength="7.40" lengthAdjust="spacingAndGlyphs">mg</text>
<text x="211.80" y="371.97" font-size="4.8" fill="#1c1cbc" stroke="#1c1cbc" stroke-width="0.12" font-weight="bold" textLength="2.20" lengthAdjust="spacingAndGlyphs">6</text>
<text x="216.90" y="371.97" font-size="4.8" fill="#1c1cbc" stroke="#1c1cbc" stroke-width="0.12" font-weight="bold" textLength="1.40" lengthAdjust="spacingAndGlyphs">/</text>
<text x="220.70" y="371.97" font-size="4.8" fill="#1c1cbc" stroke="#1c1cbc" stroke-width="0.12" font-weight="bold" textLength="4.40" lengthAdjust="spacingAndGlyphs">11</text>
<text x="238.40" y="371.97" font-size="4.8" fill="#1c1cbc" stroke="#1c1cbc" stroke-width="0.12" font-weight="bold" textLength="9.80" lengthAdjust="spacingAndGlyphs">64%</text>
<text x="211.80" y="378.69" font-size="4.8" fill="#d41c20" stroke="#d41c20" stroke-width="0.12" font-weight="bold" textLength="2.20" lengthAdjust="spacingAndGlyphs">5</text>
<text x="216.90" y="378.69" font-size="4.8" fill="#d41c20" stroke="#d41c20" stroke-width="0.12" font-weight="bold" textLength="1.40" lengthAdjust="spacingAndGlyphs">/</text>
<text x="220.70" y="378.69" font-size="4.8" fill="#d41c20" stroke="#d41c20" stroke-width="0.12" font-weight="bold" textLength="2.20" lengthAdjust="spacingAndGlyphs">5</text>
<text x="238.40" y="378.69" font-size="4.8" fill="#d41c20" stroke="#d41c20" stroke-width="0.12" font-weight="bold" textLength="9.80" lengthAdjust="spacingAndGlyphs">20%</text>
<text x="159.10" y="385.41" font-size="4.8" fill="#111" stroke="#111" stroke-width="0.12" font-weight="bold" textLength="17.30" lengthAdjust="spacingAndGlyphs">Logrank</text>
<text x="179.70" y="385.41" font-size="4.8" fill="#111" stroke="#111" stroke-width="0.12" font-weight="bold" textLength="2.30" lengthAdjust="spacingAndGlyphs">P</text>
<text x="182.70" y="385.41" font-size="4.8" fill="#111" stroke="#111" stroke-width="0.12" font-weight="bold" textLength="2.60" lengthAdjust="spacingAndGlyphs">−</text>
<text x="186.80" y="385.41" font-size="4.8" fill="#111" stroke="#111" stroke-width="0.12" font-weight="bold" textLength="12.40" lengthAdjust="spacingAndGlyphs">value</text>
<text x="203.10" y="385.41" font-size="4.8" fill="#111" stroke="#111" stroke-width="0.12" font-weight="bold" textLength="2.80" lengthAdjust="spacingAndGlyphs">=</text>
<text x="210.50" y="385.41" font-size="4.8" fill="#111" stroke="#111" stroke-width="0.12" font-weight="bold" textLength="7.40" lengthAdjust="spacingAndGlyphs">.04</text>
<polyline points="19.10,354.50 19.10,378.60 22.50,378.60 22.90,402.70 24.60,402.70 25.00,427.00 26.60,427.00 27.00,452.40 107.00,452.40 107.00,476.80" fill="none" stroke="#dc2828" stroke-width="1.0" stroke-linejoin="miter"/>
<polyline points="19.10,354.50 21.30,354.50 21.50,365.10 26.00,365.10 26.20,376.00 31.80,376.00 32.20,387.20 33.80,387.20 34.20,398.70 85.90,398.70 86.20,414.20 88.20,414.20 88.60,429.60 188.50,429.60" fill="none" stroke="#2626d4" stroke-width="1.05" stroke-linejoin="miter"/>
<line x1="45.30" y1="396.30" x2="45.30" y2="399.10" stroke="#2626d4" stroke-width="0.9"/>
<line x1="52.30" y1="396.30" x2="52.30" y2="399.10" stroke="#2626d4" stroke-width="0.9"/>
<line x1="114.60" y1="427.20" x2="114.60" y2="430.00" stroke="#2626d4" stroke-width="0.9"/>
<line x1="126.20" y1="427.20" x2="126.20" y2="430.00" stroke="#2626d4" stroke-width="0.9"/>
<line x1="188.50" y1="427.20" x2="188.50" y2="430.00" stroke="#2626d4" stroke-width="0.9"/>
<text x="296.20" y="340.83" font-size="6.2" fill="#0a0a0a" stroke="#0a0a0a" stroke-width="0.36" font-weight="normal" textLength="20.00" lengthAdjust="spacingAndGlyphs">Overall</text>
<text x="318.90" y="340.83" font-size="6.2" fill="#0a0a0a" stroke="#0a0a0a" stroke-width="0.36" font-weight="normal" textLength="21.60" lengthAdjust="spacingAndGlyphs">Survival</text>
<text x="343.60" y="340.83" font-size="6.2" fill="#0a0a0a" stroke="#0a0a0a" stroke-width="0.36" font-weight="normal" textLength="7.60" lengthAdjust="spacingAndGlyphs">by</text>
<text x="354.40" y="340.83" font-size="6.2" fill="#0a0a0a" stroke="#0a0a0a" stroke-width="0.36" font-weight="normal" textLength="18.10" lengthAdjust="spacingAndGlyphs">Serum</text>
<text x="377.10" y="340.83" font-size="6.2" fill="#0a0a0a" stroke="#0a0a0a" stroke-width="0.36" font-weight="normal" textLength="4.60" lengthAdjust="spacingAndGlyphs">M</text>
<text x="382.80" y="340.83" font-size="6.2" fill="#0a0a0a" stroke="#0a0a0a" stroke-width="0.36" font-weight="normal" textLength="3.50" lengthAdjust="spacingAndGlyphs">−</text>
<text x="387.80" y="340.83" font-size="6.2" fill="#0a0a0a" stroke="#0a0a0a" stroke-width="0.36" font-weight="normal" textLength="20.80" lengthAdjust="spacingAndGlyphs">Protein</text>
<text x="411.30" y="340.83" font-size="6.2" fill="#0a0a0a" stroke="#0a0a0a" stroke-width="0.36" font-weight="normal" textLength="16.50" lengthAdjust="spacingAndGlyphs">within</text>
<text x="430.90" y="340.83" font-size="6.2" fill="#0a0a0a" stroke="#0a0a0a" stroke-width="0.36" font-weight="normal" textLength="7.30" lengthAdjust="spacingAndGlyphs">90</text>
<text x="440.80" y="340.83" font-size="6.2" fill="#0a0a0a" stroke="#0a0a0a" stroke-width="0.36" font-weight="normal" textLength="15.00" lengthAdjust="spacingAndGlyphs">Days</text>
<text x="459.30" y="340.83" font-size="6.2" fill="#0a0a0a" stroke="#0a0a0a" stroke-width="0.36" font-weight="normal" textLength="4.20" lengthAdjust="spacingAndGlyphs">of</text>
<text x="467.40" y="340.83" font-size="6.2" fill="#0a0a0a" stroke="#0a0a0a" stroke-width="0.36" font-weight="normal" textLength="22.50" lengthAdjust="spacingAndGlyphs">Relapse</text>
<text x="339.20" y="349.03" font-size="6.2" fill="#0a0a0a" stroke="#0a0a0a" stroke-width="0.36" font-weight="normal" textLength="7.50" lengthAdjust="spacingAndGlyphs">for</text>
<text x="349.90" y="349.03" font-size="6.2" fill="#0a0a0a" stroke="#0a0a0a" stroke-width="0.36" font-weight="normal" textLength="22.90" lengthAdjust="spacingAndGlyphs">Baseline</text>
<text x="377.20" y="349.03" font-size="6.2" fill="#0a0a0a" stroke="#0a0a0a" stroke-width="0.36" font-weight="normal" textLength="13.10" lengthAdjust="spacingAndGlyphs">GEP</text>
<text x="393.40" y="349.03" font-size="6.2" fill="#0a0a0a" stroke="#0a0a0a" stroke-width="0.36" font-weight="normal" textLength="13.40" lengthAdjust="spacingAndGlyphs">High</text>
<text x="409.90" y="349.03" font-size="6.2" fill="#0a0a0a" stroke="#0a0a0a" stroke-width="0.36" font-weight="normal" textLength="11.90" lengthAdjust="spacingAndGlyphs">Risk</text>
<text x="425.00" y="349.03" font-size="6.2" fill="#0a0a0a" stroke="#0a0a0a" stroke-width="0.36" font-weight="normal" textLength="21.90" lengthAdjust="spacingAndGlyphs">Patients</text>
<line x1="285.90" y1="352.20" x2="285.90" y2="477.60" stroke="#1a1a1a" stroke-width="0.9"/>
<line x1="281.10" y1="477.10" x2="285.90" y2="477.10" stroke="#222" stroke-width="0.9"/>
<line x1="283.50" y1="464.87" x2="285.90" y2="464.87" stroke="#222" stroke-width="0.9"/>
<line x1="281.10" y1="452.64" x2="285.90" y2="452.64" stroke="#222" stroke-width="0.9"/>
<line x1="283.50" y1="440.41" x2="285.90" y2="440.41" stroke="#222" stroke-width="0.9"/>
<line x1="281.10" y1="428.18" x2="285.90" y2="428.18" stroke="#222" stroke-width="0.9"/>
<line x1="283.50" y1="415.95" x2="285.90" y2="415.95" stroke="#222" stroke-width="0.9"/>
<line x1="281.10" y1="403.72" x2="285.90" y2="403.72" stroke="#222" stroke-width="0.9"/>
<line x1="283.50" y1="391.49" x2="285.90" y2="391.49" stroke="#222" stroke-width="0.9"/>
<line x1="281.10" y1="379.26" x2="285.90" y2="379.26" stroke="#222" stroke-width="0.9"/>
<line x1="283.50" y1="367.03" x2="285.90" y2="367.03" stroke="#222" stroke-width="0.9"/>
<line x1="281.10" y1="354.80" x2="285.90" y2="354.80" stroke="#222" stroke-width="0.9"/>
<text x="271.70" y="480.15" font-size="4.3" fill="#111" stroke="#111" stroke-width="0.12" font-weight="bold" textLength="6.90" lengthAdjust="spacingAndGlyphs">0%</text>
<text x="269.10" y="455.69" font-size="4.3" fill="#111" stroke="#111" stroke-width="0.12" font-weight="bold" textLength="9.50" lengthAdjust="spacingAndGlyphs">20%</text>
<text x="269.10" y="431.23" font-size="4.3" fill="#111" stroke="#111" stroke-width="0.12" font-weight="bold" textLength="9.50" lengthAdjust="spacingAndGlyphs">40%</text>
<text x="269.10" y="406.77" font-size="4.3" fill="#111" stroke="#111" stroke-width="0.12" font-weight="bold" textLength="9.50" lengthAdjust="spacingAndGlyphs">60%</text>
<text x="269.10" y="382.31" font-size="4.3" fill="#111" stroke="#111" stroke-width="0.12" font-weight="bold" textLength="9.50" lengthAdjust="spacingAndGlyphs">80%</text>
<text x="266.50" y="357.85" font-size="4.3" fill="#111" stroke="#111" stroke-width="0.12" font-weight="bold" textLength="12.10" lengthAdjust="spacingAndGlyphs">100%</text>
<line x1="285.40" y1="477.10" x2="499.10" y2="477.10" stroke="#1a1a1a" stroke-width="1.0"/>
<line x1="285.90" y1="477.10" x2="285.90" y2="480.70" stroke="#1a1a1a" stroke-width="0.9"/>
<line x1="312.49" y1="477.10" x2="312.49" y2="479.50" stroke="#1a1a1a" stroke-width="0.9"/>
<line x1="339.07" y1="477.10" x2="339.07" y2="480.70" stroke="#1a1a1a" stroke-width="0.9"/>
<line x1="365.66" y1="477.10" x2="365.66" y2="479.50" stroke="#1a1a1a" stroke-width="0.9"/>
<line x1="392.25" y1="477.10" x2="392.25" y2="480.70" stroke="#1a1a1a" stroke-width="0.9"/>
<line x1="418.84" y1="477.10" x2="418.84" y2="479.50" stroke="#1a1a1a" stroke-width="0.9"/>
<line x1="445.43" y1="477.10" x2="445.43" y2="480.70" stroke="#1a1a1a" stroke-width="0.9"/>
<line x1="472.01" y1="477.10" x2="472.01" y2="479.50" stroke="#1a1a1a" stroke-width="0.9"/>
<line x1="498.60" y1="477.10" x2="498.60" y2="480.70" stroke="#1a1a1a" stroke-width="0.9"/>
<text x="284.97" y="487.15" font-size="4.3" fill="#111" stroke="#111" stroke-width="0.12" font-weight="bold" textLength="2.45" lengthAdjust="spacingAndGlyphs">0</text>
<text x="338.15" y="487.15" font-size="4.3" fill="#111" stroke="#111" stroke-width="0.12" font-weight="bold" textLength="2.45" lengthAdjust="spacingAndGlyphs">2</text>
<text x="391.32" y="487.15" font-size="4.3" fill="#111" stroke="#111" stroke-width="0.12" font-weight="bold" textLength="2.45" lengthAdjust="spacingAndGlyphs">4</text>
<text x="444.50" y="487.15" font-size="4.3" fill="#111" stroke="#111" stroke-width="0.12" font-weight="bold" textLength="2.45" lengthAdjust="spacingAndGlyphs">6</text>
<text x="497.68" y="487.15" font-size="4.3" fill="#111" stroke="#111" stroke-width="0.12" font-weight="bold" textLength="2.45" lengthAdjust="spacingAndGlyphs">8</text>
<text x="343.00" y="493.43" font-size="4.8" fill="#111" stroke="#111" stroke-width="0.12" font-weight="bold" textLength="7.30" lengthAdjust="spacingAndGlyphs">Yrs</text>
<text x="353.00" y="493.43" font-size="4.8" fill="#111" stroke="#111" stroke-width="0.12" font-weight="bold" textLength="10.40" lengthAdjust="spacingAndGlyphs">from</text>
<text x="365.30" y="493.43" font-size="4.8" fill="#111" stroke="#111" stroke-width="0.12" font-weight="bold" textLength="5.80" lengthAdjust="spacingAndGlyphs">90</text>
<text x="373.40" y="493.43" font-size="4.8" fill="#111" stroke="#111" stroke-width="0.12" font-weight="bold" textLength="8.90" lengthAdjust="spacingAndGlyphs">Day</text>
<text x="385.30" y="493.43" font-size="4.8" fill="#111" stroke="#111" stroke-width="0.12" font-weight="bold" textLength="22.40" lengthAdjust="spacingAndGlyphs">Landmark</text>
<text x="410.30" y="493.43" font-size="4.8" fill="#111" stroke="#111" stroke-width="0.12" font-weight="bold" textLength="11.20" lengthAdjust="spacingAndGlyphs">After</text>
<text x="423.80" y="493.43" font-size="4.8" fill="#111" stroke="#111" stroke-width="0.12" font-weight="bold" textLength="17.70" lengthAdjust="spacingAndGlyphs">Relapse</text>
<text x="501.70" y="445.73" font-size="4.8" fill="#111" stroke="#111" stroke-width="0.12" font-weight="bold" textLength="2.40" lengthAdjust="spacingAndGlyphs">1</text>
<text x="505.20" y="445.73" font-size="4.8" fill="#111" stroke="#111" stroke-width="0.12" font-weight="bold" textLength="2.70" lengthAdjust="spacingAndGlyphs">−</text>
<text x="509.90" y="445.73" font-size="4.8" fill="#111" stroke="#111" stroke-width="0.12" font-weight="bold" textLength="9.40" lengthAdjust="spacingAndGlyphs">Year</text>
<text x="471.70" y="452.45" font-size="4.8" fill="#111" stroke="#111" stroke-width="0.12" font-weight="bold" textLength="15.80" lengthAdjust="spacingAndGlyphs">Deaths</text>
<text x="490.20" y="452.45" font-size="4.8" fill="#111" stroke="#111" stroke-width="0.12" font-weight="bold" textLength="1.90" lengthAdjust="spacingAndGlyphs">/</text>
<text x="494.70" y="452.45" font-size="4.8" fill="#111" stroke="#111" stroke-width="0.12" font-weight="bold" textLength="3.00" lengthAdjust="spacingAndGlyphs">N</text>
<text x="499.80" y="452.45" font-size="4.8" fill="#111" stroke="#111" stroke-width="0.12" font-weight="bold" textLength="19.50" lengthAdjust="spacingAndGlyphs">Estimate</text>
<text x="386.30" y="459.17" font-size="4.8" fill="#1c1cbc" stroke="#1c1cbc" stroke-width="0.12" font-weight="bold" textLength="15.00" lengthAdjust="spacingAndGlyphs">Serum</text>
<text x="403.20" y="459.17" font-size="4.8" fill="#1c1cbc" stroke="#1c1cbc" stroke-width="0.12" font-weight="bold" textLength="3.90" lengthAdjust="spacingAndGlyphs">M</text>
<text x="408.60" y="459.17" font-size="4.8" fill="#1c1cbc" stroke="#1c1cbc" stroke-width="0.12" font-weight="bold" textLength="2.70" lengthAdjust="spacingAndGlyphs">−</text>
<text x="412.70" y="459.17" font-size="4.8" fill="#1c1cbc" stroke="#1c1cbc" stroke-width="0.12" font-weight="bold" textLength="16.10" lengthAdjust="spacingAndGlyphs">protein</text>
<text x="431.90" y="459.17" font-size="4.8" fill="#1c1cbc" stroke="#1c1cbc" stroke-width="0.12" font-weight="bold" textLength="2.60" lengthAdjust="spacingAndGlyphs">&lt;</text>
<text x="436.20" y="459.17" font-size="4.8" fill="#1c1cbc" stroke="#1c1cbc" stroke-width="0.12" font-weight="bold" textLength="3.40" lengthAdjust="spacingAndGlyphs">=</text>
<text x="444.00" y="459.17" font-size="4.8" fill="#1c1cbc" stroke="#1c1cbc" stroke-width="0.12" font-weight="bold" textLength="6.80" lengthAdjust="spacingAndGlyphs">1.5</text>
<text x="452.70" y="459.17" font-size="4.8" fill="#1c1cbc" stroke="#1c1cbc" stroke-width="0.12" font-weight="bold" textLength="10.40" lengthAdjust="spacingAndGlyphs">g/dL</text>
<text x="386.30" y="465.89" font-size="4.8" fill="#d41c20" stroke="#d41c20" stroke-width="0.12" font-weight="bold" textLength="15.00" lengthAdjust="spacingAndGlyphs">Serum</text>
<text x="403.20" y="465.89" font-size="4.8" fill="#d41c20" stroke="#d41c20" stroke-width="0.12" font-weight="bold" textLength="3.90" lengthAdjust="spacingAndGlyphs">M</text>
<text x="408.60" y="465.89" font-size="4.8" fill="#d41c20" stroke="#d41c20" stroke-width="0.12" font-weight="bold" textLength="2.70" lengthAdjust="spacingAndGlyphs">−</text>
<text x="412.70" y="465.89" font-size="4.8" fill="#d41c20" stroke="#d41c20" stroke-width="0.12" font-weight="bold" textLength="16.10" lengthAdjust="spacingAndGlyphs">protein</text>
<text x="431.90" y="465.89" font-size="4.8" fill="#d41c20" stroke="#d41c20" stroke-width="0.12" font-weight="bold" textLength="2.70" lengthAdjust="spacingAndGlyphs">&gt;</text>
<text x="439.40" y="465.89" font-size="4.8" fill="#d41c20" stroke="#d41c20" stroke-width="0.12" font-weight="bold" textLength="6.20" lengthAdjust="spacingAndGlyphs">1.5</text>
<text x="447.50" y="465.89" font-size="4.8" fill="#d41c20" stroke="#d41c20" stroke-width="0.12" font-weight="bold" textLength="10.20" lengthAdjust="spacingAndGlyphs">g/dL</text>
<text x="478.50" y="459.17" font-size="4.8" fill="#1c1cbc" stroke="#1c1cbc" stroke-width="0.12" font-weight="bold" textLength="2.20" lengthAdjust="spacingAndGlyphs">7</text>
<text x="483.60" y="459.17" font-size="4.8" fill="#1c1cbc" stroke="#1c1cbc" stroke-width="0.12" font-weight="bold" textLength="1.40" lengthAdjust="spacingAndGlyphs">/</text>
<text x="487.40" y="459.17" font-size="4.8" fill="#1c1cbc" stroke="#1c1cbc" stroke-width="0.12" font-weight="bold" textLength="2.20" lengthAdjust="spacingAndGlyphs">7</text>
<text x="505.10" y="459.17" font-size="4.8" fill="#1c1cbc" stroke="#1c1cbc" stroke-width="0.12" font-weight="bold" textLength="9.80" lengthAdjust="spacingAndGlyphs">14%</text>
<text x="478.50" y="465.89" font-size="4.8" fill="#d41c20" stroke="#d41c20" stroke-width="0.12" font-weight="bold" textLength="2.20" lengthAdjust="spacingAndGlyphs">5</text>
<text x="483.60" y="465.89" font-size="4.8" fill="#d41c20" stroke="#d41c20" stroke-width="0.12" font-weight="bold" textLength="1.40" lengthAdjust="spacingAndGlyphs">/</text>
<text x="487.40" y="465.89" font-size="4.8" fill="#d41c20" stroke="#d41c20" stroke-width="0.12" font-weight="bold" textLength="4.40" lengthAdjust="spacingAndGlyphs">10</text>
<text x="505.10" y="465.89" font-size="4.8" fill="#d41c20" stroke="#d41c20" stroke-width="0.12" font-weight="bold" textLength="9.80" lengthAdjust="spacingAndGlyphs">80%</text>
<text x="422.95" y="472.61" font-size="4.8" fill="#111" stroke="#111" stroke-width="0.12" font-weight="bold" textLength="17.30" lengthAdjust="spacingAndGlyphs">Logrank</text>
<text x="443.55" y="472.61" font-size="4.8" fill="#111" stroke="#111" stroke-width="0.12" font-weight="bold" textLength="2.30" lengthAdjust="spacingAndGlyphs">P</text>
<text x="446.55" y="472.61" font-size="4.8" fill="#111" stroke="#111" stroke-width="0.12" font-weight="bold" textLength="2.60" lengthAdjust="spacingAndGlyphs">−</text>
<text x="450.65" y="472.61" font-size="4.8" fill="#111" stroke="#111" stroke-width="0.12" font-weight="bold" textLength="12.40" lengthAdjust="spacingAndGlyphs">value</text>
<text x="466.95" y="472.61" font-size="4.8" fill="#111" stroke="#111" stroke-width="0.12" font-weight="bold" textLength="2.80" lengthAdjust="spacingAndGlyphs">=</text>
<text x="474.35" y="472.61" font-size="4.8" fill="#111" stroke="#111" stroke-width="0.12" font-weight="bold" textLength="9.30" lengthAdjust="spacingAndGlyphs">.003</text>
<polyline points="285.90,354.80 286.10,366.80 291.80,366.80 291.80,378.90 355.50,378.90 355.50,395.30 373.50,395.30 373.50,428.10 454.80,428.10" fill="none" stroke="#dc2828" stroke-width="1.0" stroke-linejoin="miter"/>
<polyline points="285.90,354.80 288.40,354.80 288.60,371.70 289.30,371.70 289.30,388.90 291.60,388.90 292.00,406.70 292.90,406.70 293.20,424.40 297.40,424.40 297.70,442.20 300.50,442.20 300.80,459.30 352.40,459.30 352.40,477.10" fill="none" stroke="#2626d4" stroke-width="1.05" stroke-linejoin="miter"/>
<line x1="312.00" y1="376.50" x2="312.00" y2="379.30" stroke="#dc2828" stroke-width="0.9"/>
<line x1="319.10" y1="376.50" x2="319.10" y2="379.30" stroke="#dc2828" stroke-width="0.9"/>
<line x1="381.60" y1="425.70" x2="381.60" y2="428.50" stroke="#dc2828" stroke-width="0.9"/>
<line x1="392.70" y1="425.70" x2="392.70" y2="428.50" stroke="#dc2828" stroke-width="0.9"/>
<line x1="454.80" y1="425.70" x2="454.80" y2="428.50" stroke="#dc2828" stroke-width="0.9"/>
</g>
</svg>
</body></html>
